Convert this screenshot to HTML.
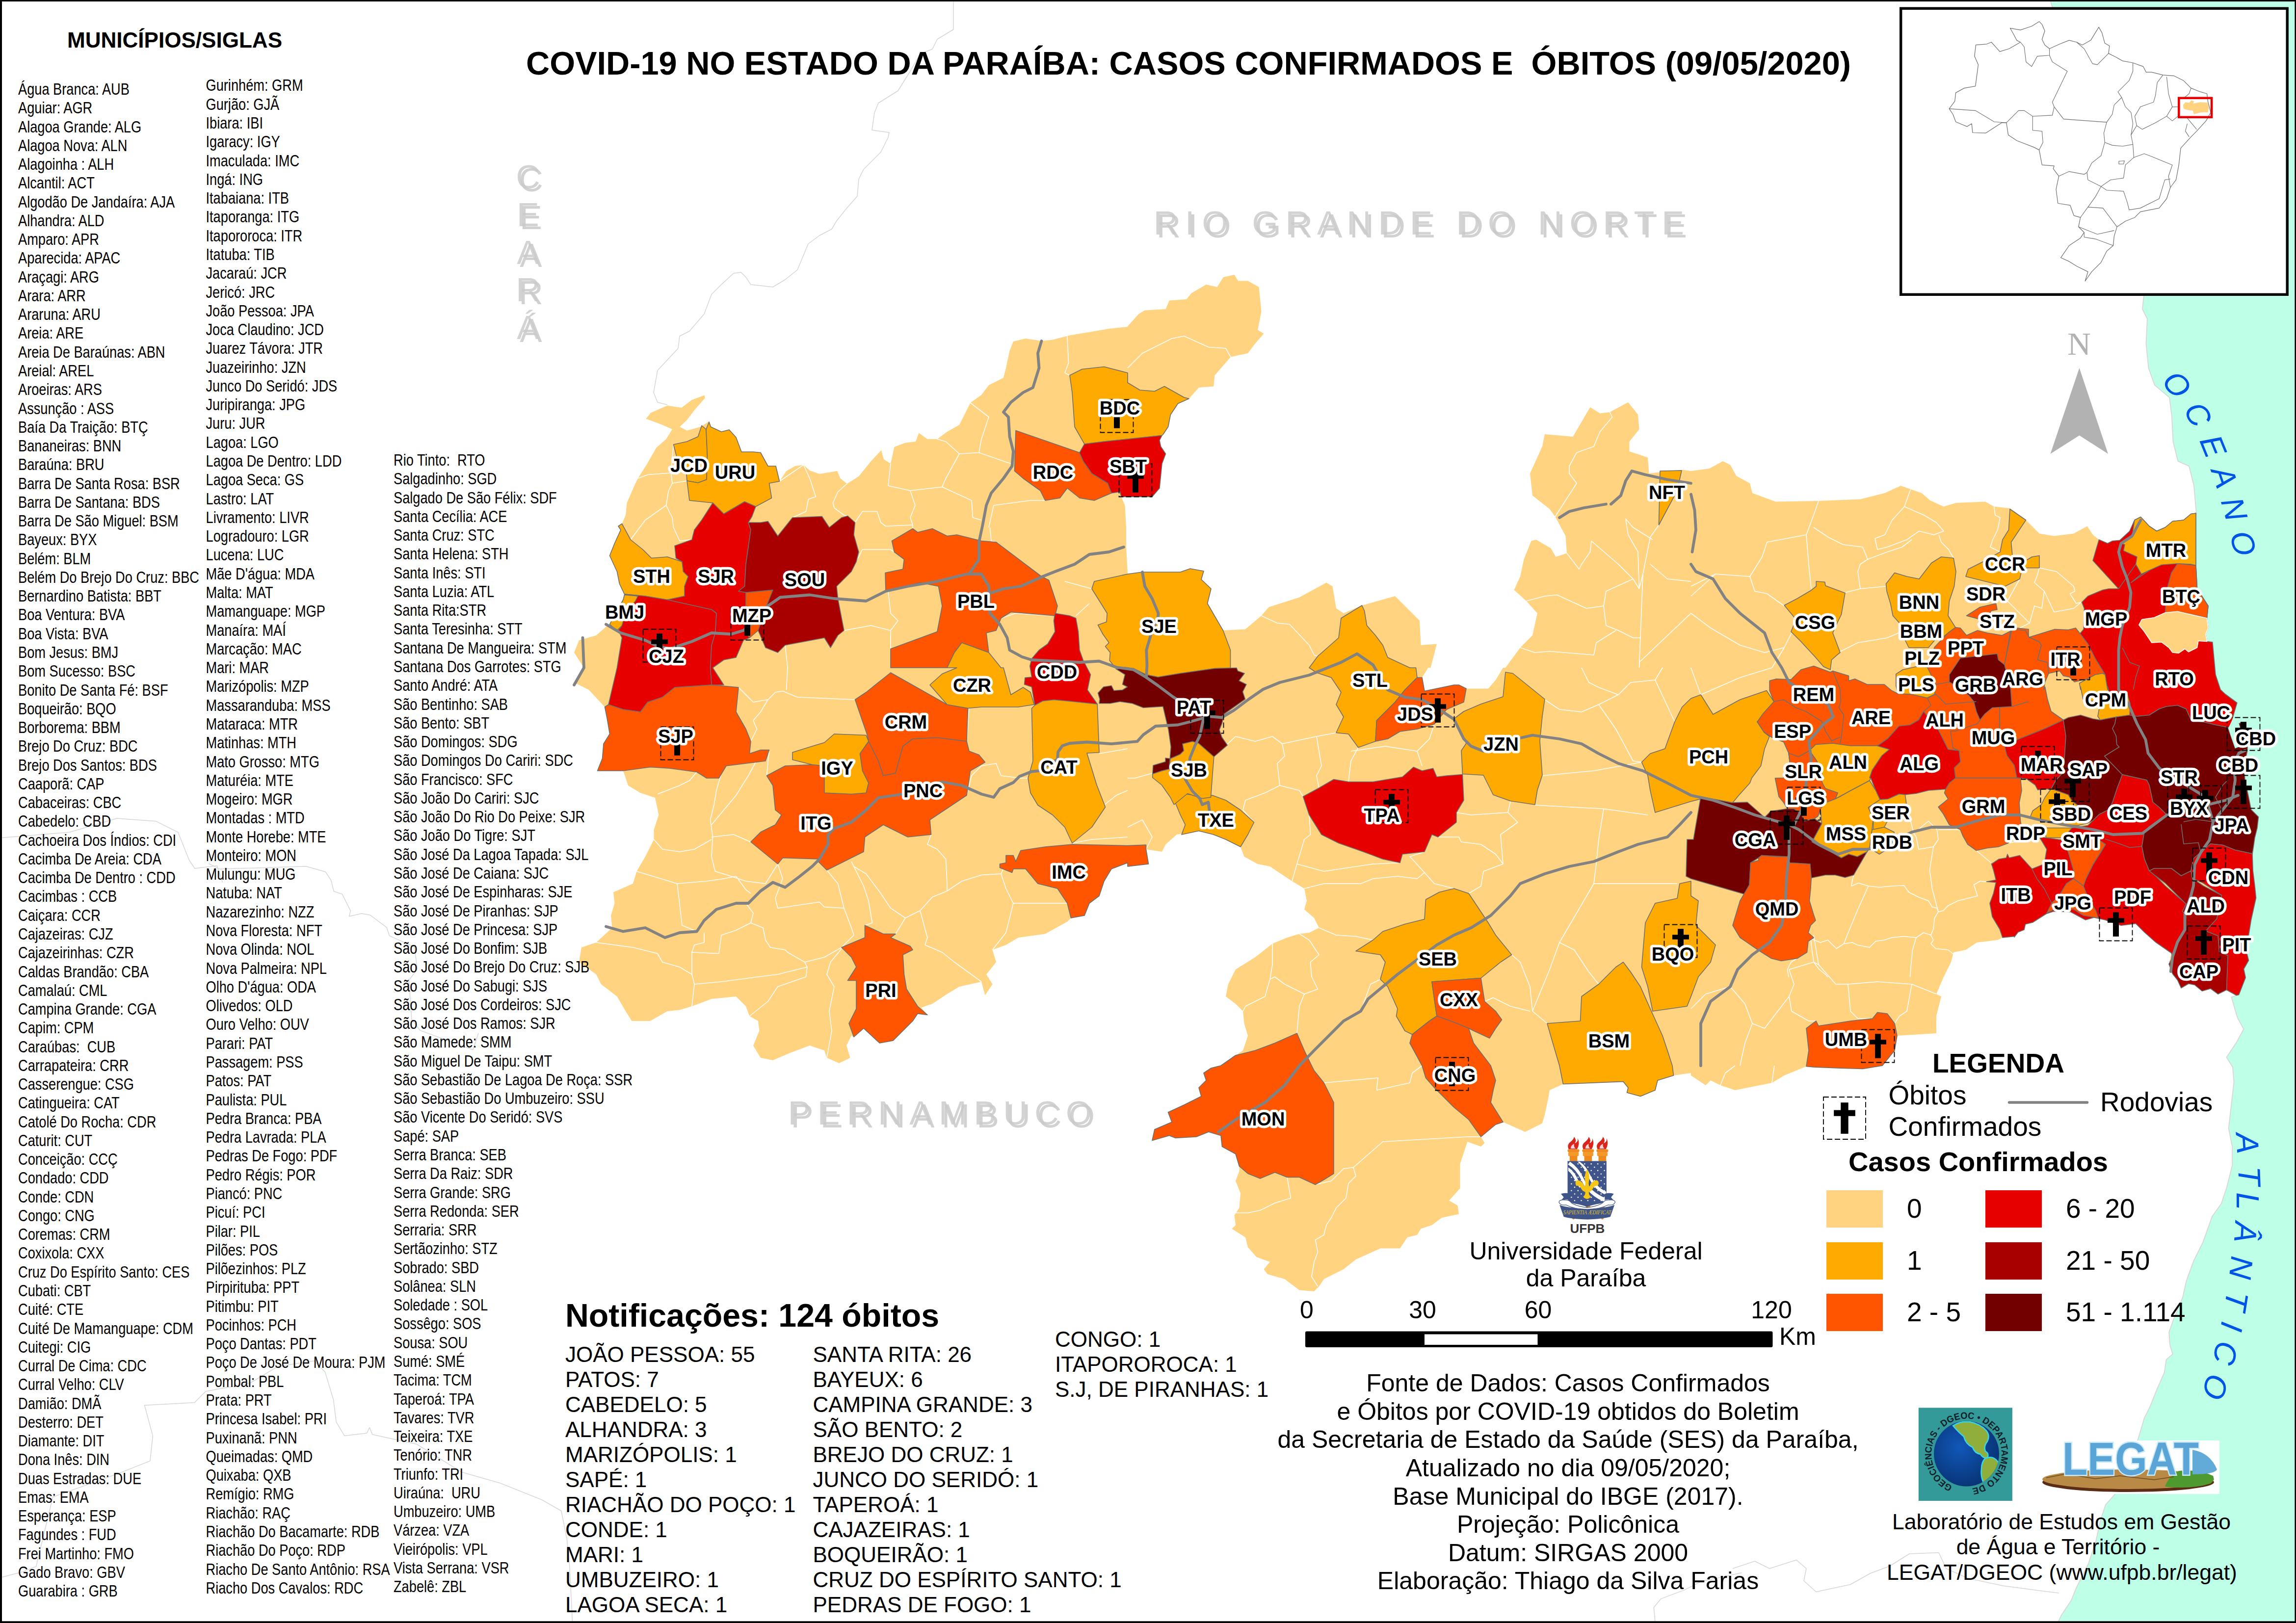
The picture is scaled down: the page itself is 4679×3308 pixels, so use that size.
<!DOCTYPE html>
<html><head><meta charset="utf-8"><title>COVID-19 no Estado da Paraíba</title>
<style>
html,body{margin:0;padding:0;background:#fff}
svg{display:block}
text{font-family:"Liberation Sans",Arial,sans-serif;fill:#000}
.lst text{font-size:33.2px}
.lab text{font-size:38px;font-weight:bold;stroke:#fff;stroke-width:10.5px;stroke-linejoin:round;paint-order:stroke fill}
.n text{font-size:44px}
.s text{font-size:50px;text-anchor:middle}
.g text{font-size:55px}
.mun{stroke:#6e6e6e;stroke-width:1.6;stroke-linejoin:round}
.rd{fill:none;stroke:#828282;stroke-width:5.8;stroke-linejoin:round;stroke-linecap:round}
.wb{fill:none;stroke:#fff;stroke-width:1.6;stroke-linejoin:round}
.gb{fill:none;stroke:#d6d6d6;stroke-width:1.5;stroke-linejoin:round}
.bx{fill:none;stroke:#000;stroke-width:1.8;stroke-dasharray:11 5}
.st text{font-size:68px;fill:#d3d3d3}
.oc text{font-size:64px;font-style:italic;fill:#0055e6;text-anchor:middle}
</style></head><body>
<svg width="4679" height="3308" viewBox="0 0 4679 3308">
<rect width="4679" height="3308" fill="#fff"/>
<g class="gb">
<polyline points="1943,0 1943,60 1910,80 1900,100 1875,110 1855,145 1830,185 1790,210 1782,230 1777,265 1812,270 1810,280 1795,310 1760,345 1750,365 1747,400 1725,425 1705,450 1695,467 1670,480 1647,497 1625,550 1600,570 1575,585 1530,580 1520,565 1510,555 1495,557 1470,580 1450,600 1435,640 1405,675 1385,685 1382,710 1340,755 1332,800 1340,820 1360,825"/>
<polyline points="425.2,1760 447.8,1771.3 623.6,1765.7 663.3,1777 674.6,1794 680.3,1816.7 697.3,1822.4 714.3,1856.4 711.5,1867.7 737,1862 754,1864.9 788,1890.4 793.7,1907.4 844.7,1930.1 850.3,1975.4 833.3,1998.1 839,2077.5 856,2100.1 963.7,2139.8 975.1,2105.8"/>
<polyline points="0,1707.7 141.7,1696.3 238.1,1668 317.5,1673.7 362.8,1696.3 385.5,1753 396.8,1770 442.2,1764.4 453.5,1798.4"/>
<polyline points="0,3215.4 45.3,3204.1 73.6,3192.8 107.6,3051.2 186.9,3022.9 249.2,3000.2 305.8,2977.6 311.4,2926.6 294.5,2864.3 396.4,2858.7 419,2836 509.6,2819 566.3,2785.1 639.9,2773.7 662.5,2796.4 679.5,2853 685.2,2898.3 702.2,2926.6 747.5,2921 753.1,2909.6 758.8,2923.8 849.4,2943.6 940,3000.2 1019.3,3022.9 1104.2,3056.9 1143.8,3079.5 1155.2,3136.1 1160.8,3192.8 1166.5,3306"/>
<polyline points="3373.2,3307.9 3370.3,3276.2 3385,3258.6 3432,3240.9 3467.3,3223.3 3549.6,3205.6"/>
<polyline points="3531,3197 3576,3182 3606,3197 3661,3179.5 3681,3197 3676,3222 3701,3244.5 3771,3229.5 3811,3207 3851,3192 3891,3167 3951,3164.5 3966,3197 4011,3217 4081,3232 4156,3242 4196,3247"/>
</g>
<polygon points="4178,0 4369,603 4366,630 4376,650 4373.5,700 4378.5,750 4391,785 4421,810 4426,850 4428.5,900 4438.5,940 4461,950 4471,990 4476,1047.5 4475,1046.2 4475,1152.5 4477.5,1200 4500,1235 4497.5,1260 4500,1280 4495,1292.5 4497.5,1307.5 4508.8,1308.8 4515,1375 4525,1405.5 4535,1415 4558.8,1432.5 4550,1462.5 4546.2,1500 4555,1525 4567.5,1520 4570,1500 4562.5,1475 4567.5,1472.5 4580,1500 4580,1530 4572.5,1562.5 4575,1590 4582.5,1625 4587.5,1650 4602.5,1665 4600,1687.5 4595,1707.5 4592.5,1725 4590,1750 4591.2,1775 4595,1805.5 4597.5,1830 4587.5,1875 4577.5,1937.5 4582.5,1957.5 4572.5,1975 4576.2,1992.5 4562.5,2027.5 4547.5,2032.5 4552.5,2050 4560,2075 4572.5,2097.5 4557.5,2125 4537.5,2155 4550,2175 4552.5,2205.5 4541.7,2300 4549.2,2337.4 4549.2,2374.8 4538,2419.7 4526.8,2453.3 4508.1,2479.5 4489.4,2531.9 4470.7,2569.3 4455.7,2610.4 4448.2,2644.1 4429.5,2689 4420.2,2715.2 4422,2741.3 4427.7,2760 4414.6,2771.3 4410.8,2797.4 4395.9,2831.1 4380.9,2868.5 4369.7,2890.9 4356,2937 4311,3044.5 4291,3067 4281,3097 4271,3142 4256,3187 4231,3237 4221,3262 4201,3292 4193.5,3308 4679,3308 4679,0" fill="#BEFFE8" stroke="#d9d9d9" stroke-width="2"/>
<polygon points="1190,1361 1170,1330 1180,1305 1215,1295 1235,1277.5 1242.5,1272.5 1270,1220 1272.5,1211 1262.5,1190 1257.5,1165 1242.5,1132.5 1252.5,1107.5 1265,1080 1260,1072.5 1267.5,1067.5 1275,1050 1277.5,1025 1295,985 1300,975 1317.5,947.5 1337.5,912.5 1357.5,895 1370,875 1347.5,865 1316.5,853.5 1326,841.5 1360,826.5 1389,831 1410,815 1436,805.5 1436.5,811.5 1415,836 1400,856 1385,870 1400,877.5 1427.5,870 1445,859 1448.5,870 1470,880 1486,876 1500,891.5 1511,921 1535,921 1550,922.5 1565,950 1581,950 1588.5,981 1602.5,960 1620,950 1637.5,947.5 1650,959 1670,966 1706,960 1712.5,975 1726,986 1750,971 1775,940 1796,917.5 1801,936 1815,945 1822.5,911 1845,902.5 1866,900 1872.5,882.5 1890,895 1910,895 1930,880 1955,866 1977.5,821 2000,805 2015,785 2045,770 2050,750 2057.5,715 2065,696 2090,690 2122.5,695 2145,692.5 2180,683.5 2225,676 2260,670 2298,666 2298,665 2320.5,640 2333,632.5 2375.5,630 2383,612.5 2418,610 2428,597.5 2458,580 2480.5,585 2493,565 2515.5,560 2523,572.5 2543,572.5 2565.5,585 2570.5,635 2563,672.5 2575.5,680 2558,700 2543,720 2508,727.5 2475.5,765 2473,787.5 2443,790 2423,812.5 2400.5,822.5 2385.5,845 2380.5,870 2370.5,885 2363,897.5 2365.5,910 2375.5,925 2368,945 2363,995 2348,1012.5 2298,1012.5 2285,1012.5 2292.5,1030 2295,1075 2295,1115 2298,1167.5 2298,1170 2328,1166 2405.5,1166 2425.5,1159 2453,1164 2448,1181 2468,1200 2460.5,1230 2473,1250 2473,1270 2490.5,1285 2538,1282.5 2570.5,1255 2585.5,1237.5 2648,1217.5 2703,1187.5 2715.5,1195 2723,1240 2738,1250 2775.5,1234 2843,1215 2893,1265 2895.5,1315 2928,1312.5 2915.5,1361 2910.5,1361 2898,1381 2903,1408.5 2963,1396 2973,1396 2988,1403.5 3033,1403.5 3048,1386 3063,1361 3068,1361 3098,1320 3123,1295 3133,1250 3110.5,1225 3085.5,1202.5 3098,1175 3105.5,1140 3120.5,1102.5 3130.5,1100 3160.5,1117.5 3170.5,1135 3193,1127.5 3190.5,1092.5 3170.5,1055 3158,1037.5 3123,1010 3118,965 3143,910 3148,885 3205.5,890 3240.5,830 3260.5,842.5 3280.5,840 3318,820 3338,845 3340.5,875 3320.5,900 3320.5,920 3358,932.5 3360.5,965 3380.5,962.5 3428,957.5 3446,960 3446,960 3483.5,955 3511,940 3526,947.5 3538.5,970 3566,985 3571,1005 3618.5,1022.5 3706,1021 3791,1017.5 3841,1005 3873.5,990 3916,1005 3933.5,1020 3961,1032.5 3986,1025 4046,1022.5 4063.5,1032.5 4096,1036 4128.5,1060 4156,1087.5 4186,1092.5 4226,1087.5 4253.5,1072.5 4265,1090 4277.5,1100 4295,1107.5 4305,1102.5 4320,1101.2 4340,1082.5 4348.8,1061.2 4362.5,1053.8 4380,1072.5 4395,1082.5 4412.5,1075 4427.5,1062.5 4450,1060 4465,1047.5 4475,1046.2 4475,1152.5 4477.5,1200 4500,1235 4497.5,1260 4500,1280 4495,1292.5 4497.5,1307.5 4508.8,1308.8 4515,1375 4525,1405.5 4535,1415 4558.8,1432.5 4550,1462.5 4546.2,1500 4555,1525 4567.5,1520 4570,1500 4562.5,1475 4567.5,1472.5 4580,1500 4580,1530 4572.5,1562.5 4575,1590 4582.5,1625 4587.5,1650 4602.5,1665 4600,1687.5 4595,1707.5 4592.5,1725 4590,1750 4591.2,1775 4595,1805.5 4597.5,1830 4587.5,1875 4577.5,1937.5 4582.5,1957.5 4572.5,1975 4576.2,1992.5 4562.5,2027.5 4557.5,2028.8 4535,2017.5 4520,2026.2 4505,2015 4487.5,2020 4472.5,2007.5 4460,2005 4445,2013.8 4437.5,1997.5 4427.5,1985 4420,1965 4425,1942.5 4392.5,1920 4370,1900 4352.5,1882.5 4322.5,1886.2 4290,1875 4267.5,1870 4250,1875 4220,1858.8 4185,1857.5 4170,1862.5 4142.5,1880 4127.5,1883.8 4125,1895 4112.5,1900 4105,1910 4106,1908.5 4081,1911 4071,1916 4028.5,1921 4006,1936 3981,1941 3976,1961 3961,1991 3946,2026 3956,2031 3946,2071 3946,2106 3866,2111 3861,2141 3836,2172 3796,2178.5 3746,2177 3696,2175 3681,2173.5 3636,2192 3611,2207 3536,2222 3506,2212 3486,2202 3476,2212 3446,2192 3446,2187 3410.5,2192 3378,2202 3373,2222 3343,2234.5 3315.5,2227 3318,2217 3308,2204.5 3185.5,2209.5 3158,2222 3155.5,2237 3148,2272 3143,2289.5 3108,2307 3063,2287 3048,2292 3033,2304.5 3018,2317 3025.5,2329.5 3018,2337 2990.5,2327 2975.5,2372 2975.5,2422 2953,2447 2970.5,2457 2973,2474.5 2938,2482 2918,2497 2895.5,2504.5 2888,2517 2868,2522 2853,2544.5 2813,2544.5 2763,2567 2738,2587 2698,2607 2688,2622 2678,2632 2648,2629.5 2618,2607 2583,2597 2575.5,2587 2588,2572 2560.5,2562 2543,2542 2538,2522 2510.5,2504.5 2518,2497 2515.5,2477 2525.5,2462 2528,2432 2518,2407 2525.5,2387 2525.5,2377 2518,2352 2490.5,2337 2488,2314.5 2463,2307 2438,2317 2395.5,2319.5 2383,2314.5 2348,2324.5 2353,2302 2388,2287 2380.5,2267 2413,2252 2448,2234.5 2443,2217 2458,2202 2453,2187 2468,2177 2488,2172 2488,2172 2518,2151 2533,2141 2543,2111 2535.5,2086 2533,2061 2518,2046 2498,2031 2503,2006 2518,1976 2558,1951 2593,1923.5 2623,1911 2648,1903.5 2668,1901 2688,1891 2678,1871 2658,1853.5 2663,1836 2658,1811 2633,1796 2618,1786 2588,1766 2563,1761 2535.5,1746 2528,1726 2498,1711 2473,1701 2443,1693.5 2398,1701 2375.5,1721 2368,1736 2335.5,1731 2340.5,1761 2298,1766 2298,1758.5 2265,1771 2250,1796 2240,1826 2220,1841 2210,1866 2182.5,1871 2175,1878.5 2130,1903.5 2075,1911 2050,1926 2022.5,1936 2030,1961 2010,1986 2022.5,2006 2007.5,2028.5 2000,2001 1955,2011 1930,2026 1900,2046 1877.5,2053.5 1890,2068.5 1870,2066 1860,2081 1840,2101 1820,2121 1792.5,2126 1760,2096 1740,2113.5 1735,2111 1725,2131 1732.5,2156 1710,2167 1685,2156 1680,2141 1650,2131 1610,2146 1575,2161 1550,2156 1535,2131 1547.5,2101 1545,2081 1527.5,2071 1520,2051 1500,2031 1450,2036 1410,2051 1385,2058.5 1360,2061 1325,2081 1287.5,2081 1275,2061 1257.5,2031 1225,2006 1215,1986 1180,1961 1185,1931 1215,1921 1247.5,1891 1245,1866 1252.5,1841 1250,1818.5 1290,1801 1297.5,1776 1315,1746 1332.5,1711 1332.5,1691 1342.5,1661 1335,1626 1305,1616 1280,1601 1270,1571 1217.5,1571 1227.5,1546 1230,1516 1242.5,1496 1237.5,1466 1232.5,1441 1200,1406 1170,1391 1190,1361" fill="#FFD37F"/>
<g class="wb">
<polyline points="1300,975 1320,967.5 1367.5,964 1372.5,906"/>
<polyline points="1367.5,964 1370,985 1362.5,1000 1357.5,1030 1370,1055 1372.5,1075 1385,1102.5 1410,1100"/>
<polyline points="1370,985 1400,980"/>
<polyline points="1588.5,981 1637.5,947.5 1650,975 1662.5,1012.5 1647.5,1017.5 1642.5,1042.5 1615,1055"/>
<polyline points="1726,986 1707.5,1002.5 1697.5,1025 1700,1035 1720,1050 1727.5,1051.5"/>
<polyline points="1742.5,1065 1757.5,1042.5 1787.5,1042.5 1795,1065 1805,1072.5 1860,1070 1860,1077.5"/>
<polyline points="1815,945 1810,990 1855,1000 1865,1030 1855,1055 1860,1070"/>
<polyline points="1855,1000 1920,992.5 1927.5,975 1955,925 1995,922.5 2000,895 2015,850 1977.5,821"/>
<polyline points="1920,992.5 1980,1020 1982.5,1055 2000,1060"/>
<polyline points="1995,922.5 2060,945"/>
<polyline points="1910,895 1927.5,900 1955,925"/>
<polyline points="2175,685 2177.5,740 2170,760 2180,765"/>
<polyline points="2015,1075 2025,1030 2100,1020 2130,1020"/>
<polyline points="2017.5,1075 2020,1102.5 2030,1105"/>
<polyline points="1810,1205 1815,1250 1830,1265 1815,1285 1815,1322.5"/>
<polyline points="1705,1195 1750,1135 1757.5,1120 1815,1120 1822.5,1125"/>
<polyline points="1600,1315 1605,1361"/>
<polyline points="2040,1260 2070,1250 2145,1255"/>
<polyline points="2170,1185 2225,1200"/>
<polyline points="2192.5,1255 2220,1230"/>
<polyline points="1720,1285 1775,1275 1815,1285"/>
<polyline points="1285,1100 1315,1060 1357.5,1030"/>
<polyline points="1505,1401 1535,1431 1565,1426 1580,1411 1595,1408.5 1625,1421 1742.5,1426"/>
<polyline points="1605,1361 1602.5,1406"/>
<polyline points="1565,1426 1550,1451 1535,1468.5 1542.5,1486 1530,1511"/>
<polyline points="1742.5,1426 1765,1486 1767.5,1498.5"/>
<polyline points="1567.5,1528.5 1562.5,1581"/>
<polyline points="1480,1561 1470,1576 1460,1611 1455,1641 1447.5,1671 1452.5,1706 1450,1746 1457.5,1776 1490,1786 1520,1796 1560,1801 1585,1761"/>
<polyline points="1540,1553.5 1525,1581 1500,1621 1475,1651 1450,1681"/>
<polyline points="1420,1573.5 1405,1591 1385,1601 1340,1618.5"/>
<polyline points="1332.5,1711 1350,1731 1385,1736 1415,1731 1450,1711"/>
<polyline points="1450,1706 1495,1701 1530,1716"/>
<polyline points="1297.5,1776 1380,1801 1440,1796 1475,1791 1500,1786 1520,1813.5 1530,1821"/>
<polyline points="1380,1801 1390,1886 1420,1898.5"/>
<polyline points="1520,1841 1535,1861 1530,1881 1555,1891 1560,1916 1570,1931 1600,1936 1605,1941 1640,1961 1680,1951 1715,1931"/>
<polyline points="1585,1761 1595,1791 1580,1831 1585,1851 1670,1838.5 1680,1848.5 1720,1851 1735,1891 1740,1906 1715,1931"/>
<polyline points="1685,1773.5 1707.5,1801 1720,1851"/>
<polyline points="1735,1756 1745,1776 1760,1806 1770,1836 1777.5,1881 1762.5,1886"/>
<polyline points="1740,1766 1765,1781 1795,1821 1815,1851 1845,1871 1825,1903.5"/>
<polyline points="1845,1871 1875,1856 1900,1828.5 1930,1816 1960,1796 2000,1783.5 2040,1781 2050,1758.5"/>
<polyline points="1897.5,1701 1890,1721 1910,1731 1927.5,1751 1930,1801 1930,1816"/>
<polyline points="1875,1856 1890,1911 1885,1926 1920,1941 1945,1961 2000,2001"/>
<polyline points="2040,1781 2050,1811 2065,1841 2050,1901 2022.5,1936"/>
<polyline points="2175,1841 2065,1841"/>
<polyline points="1215,1921 1290,1931 1340,1943.5 1350,1961 1385,1971 1410,1986 1415,2006 1410,2051"/>
<polyline points="1410,1941 1465,1943.5 1470,1906 1500,1896 1530,1881"/>
<polyline points="1410,1986 1410,1941 1415,1926 1435,1921 1435,1901"/>
<polyline points="1415,2006 1470,2001 1545,1991 1585,1986 1645,1971 1640,1961"/>
<polyline points="1645,1971 1642.5,1991 1585,2011 1565,2041 1540,2061 1527.5,2071"/>
<polyline points="1715,1933.5 1692.5,1961 1685,1986 1700,2011 1690,2061 1695,2101 1685,2156"/>
<polyline points="1970,1511 1975,1441"/>
<polyline points="1970,1621 1980,1581 2000,1561 2030,1556 2040,1581 2080,1586 2095,1586"/>
<polyline points="2240,1536 2298,1526"/>
<polyline points="2250,1641 2275,1621 2298,1611"/>
<polyline points="2185,1718.5 2225,1711 2298,1706"/>
<polyline points="2045,1361 2055,1416"/>
<polyline points="2473,1543.5 2518,1501 2558,1511 2593,1501 2613,1516 2618,1541 2603,1556 2608,1601 2578,1616 2538,1631 2533,1651"/>
<polyline points="2613,1516 2648,1508.5 2683,1501 2723,1493.5"/>
<polyline points="2683,1501 2693,1561 2683,1581 2688,1606"/>
<polyline points="2768,1523.5 2753,1551 2748,1593.5"/>
<polyline points="2753,1531 2823,1521 2888,1531 2913,1506 2923,1476"/>
<polyline points="2888,1531 2898,1561"/>
<polyline points="2608,1601 2648,1611 2655.5,1623.5"/>
<polyline points="2668,1661 2670.5,1701 2658,1711 2643,1761 2633,1796"/>
<polyline points="2643,1761 2698,1776 2798,1761 2853,1758.5"/>
<polyline points="2658,1811 2698,1801 2773,1801 2798,1791 2848,1786 2888,1791 2903,1778.5 2878,1751 2873,1746 2903,1736"/>
<polyline points="2903,1778.5 2923,1801 2963,1811"/>
<polyline points="2930.5,1706 2973,1706 2978,1716 3018,1721 3048,1741 3063,1761 3023,1776 3018,1806 2993,1821"/>
<polyline points="2968,1656 2998,1661 3073,1656 3078,1633.5"/>
<polyline points="3073,1656 3093,1676 3058,1701 3063,1761"/>
<polyline points="3128,1641 3268,1648.5 3358,1661"/>
<polyline points="3268,1648.5 3258,1711 3253,1761 3248,1801 3213,1861 3178,1921 3158,1976 3123,2061 3153,2086"/>
<polyline points="3248,1801 3418,1801"/>
<polyline points="3080.5,1946 3098,1961 3118,2011 3123,2061"/>
<polyline points="3178,1921 3208,1936 3238,1981 3258,2006"/>
<polyline points="3025.5,2041 3043,2033.5 3078,2051 3118,2061"/>
<polyline points="2688,1891 2723,1906 2763,1908.5 2798,1916"/>
<polyline points="2648,1903.5 2668,1916 2688,1946 2670.5,1961 2673,1991 2685.5,2016 2658,2026 2648,2051 2643,2106"/>
<polyline points="2593,1923.5 2593,1966 2588,1996 2598,1991 2618,2006 2658,2026"/>
<polyline points="2588,1996 2578,2031 2538,2051 2533,2061"/>
<polyline points="2813,1996 2793,2006 2773,2061"/>
<polyline points="3148,1426 3178,1446 3223,1451 3258,1436 3298,1416 3323,1391 3373,1386 3413,1471"/>
<polyline points="3258,1436 3293,1486 3328,1551 3345.5,1553.5"/>
<polyline points="3223,1361 3238,1391 3258,1401 3298,1416"/>
<polyline points="3373,1386 3388,1361"/>
<polyline points="3143,1581 3248,1571 3345.5,1553.5"/>
<polyline points="2298,1586 2313,1586 2348,1576"/>
<polyline points="2533,1651 2555.5,1676"/>
<polyline points="2298,1686 2328,1671 2348,1706 2335.5,1731"/>
<polyline points="2298,750 2328,720 2388,690 2413,685 2463,707.5 2498,710 2508,727.5"/>
<polyline points="3168,1055 3213,985 3198,965 3198,950 3213,922.5 3248,910 3260.5,880 3285.5,850 3280.5,840"/>
<polyline points="3243,1102.5 3240.5,1125 3223,1150 3218,1160 3193,1127.5"/>
<polyline points="3243,1102.5 3298,1150 3328,1180 3340.5,1200 3348,1170 3363,1095 3380.5,1070"/>
<polyline points="3313,1057.5 3328,1075 3368,1100"/>
<polyline points="3313,1057.5 3318,1090 3338,1125 3340.5,1200"/>
<polyline points="3363,1150 3398,1180 3446,1185"/>
<polyline points="3110.5,1225 3148,1215 3173,1212.5 3233,1240 3268,1235 3273,1205 3328,1180"/>
<polyline points="3268,1235 3273,1275 3298,1285 3328,1300 3343,1300"/>
<polyline points="3098,1320 3128,1330 3158,1327.5 3248,1335 3253,1310 3293,1285"/>
<polyline points="3348,1170 3340.5,1361"/>
<polyline points="3446,1250 3340.5,1350"/>
<polyline points="2570.5,1255 2603,1270 2628,1272.5 2668,1315 2678,1335 2685.5,1337.5"/>
<polyline points="3706,1021 3696,1050 3681,1090 3686,1150 3691,1200"/>
<polyline points="3681,1090 3601,1105 3591,1135 3566,1175 3576,1205 3601,1210 3636,1235"/>
<polyline points="3696,1075 3726,1095 3756,1110 3796,1115 3806,1140 3791,1150 3786,1165 3791,1200 3761,1207.5"/>
<polyline points="3566,1175 3496,1170 3446,1195"/>
<polyline points="3496,1170 3446,1215"/>
<polyline points="3893.5,997.5 3881,1032.5 3856,1060 3841,1090 3821,1097.5 3826,1120 3846,1115 3886,1100 3911,1082.5 3941,1090 3961,1082.5 3946,1065 3921,1050 3881,1032.5"/>
<polyline points="3806,1140 3846,1125 3876,1115 3896,1100"/>
<polyline points="3951,1090 3956,1105 3971,1120 3981,1137.5"/>
<polyline points="3791,1200 3843.5,1195"/>
<polyline points="4063.5,1032.5 4066,1050 4076,1055 4071,1080 4061,1100 4056,1115 4076,1125"/>
<polyline points="4156,1157.5 4191,1165 4226,1195 4228.5,1205 4218.5,1210 4231,1230 4241,1227.5"/>
<polyline points="4156,1157.5 4151,1175 4146,1187.5 4166,1205 4161,1240 4146,1235 4136,1270 4116,1280"/>
<polyline points="4116,1180 4091,1225 4116,1250 4136,1270"/>
<polyline points="4166,1205 4186,1247.5 4226,1240 4241,1227.5"/>
<polyline points="3746,1330 3786,1310 3846,1300 3881,1285"/>
<polyline points="3446,1250 3486,1280 3546,1315 3596,1330 3636,1320 3651,1290"/>
<polyline points="3611,1361 3636,1320"/>
<polyline points="3772.5,1806 3787.5,1799.8 3807.5,1806 3830,1808.5 3855,1806 3880,1804.8 3890,1818.5 3910,1828.5 3930,1836 3937.5,1848.5 3947.5,1851 3950,1858.5"/>
<polyline points="3807.5,1806 3785,1856 3767.5,1898.5 3757.5,1923.5"/>
<polyline points="3805,1736 3777.5,1783.5 3772.5,1806"/>
<polyline points="3940,1726 3932.5,1773.5 3937.5,1811 3950,1858.5"/>
<polyline points="3950,1858.5 3960,1856 3970,1846 3990,1836 4010,1831 4030,1826 4025,1811 4022.5,1803.5 4035,1796 4047.5,1797.2"/>
<polyline points="3950,1858.5 3942.5,1871 3940,1893.5 3935,1906 3940,1916 3935,1923.5 3945,1933.5 3970,1936 3982.5,1946"/>
<polyline points="3690,1913.5 3710,1921 3725,1916 3742.5,1933.5 3757.5,1923.5 3775,1921 3785,1926 3810,1931 3822.5,1918.5 3840,1916 3855,1911 3880,1908.5 3905,1911 3920,1901 3935,1906"/>
<polyline points="3905,1911 3897.5,1936 3895,1961 3892.5,1991.5"/>
<polyline points="3690,1913.5 3692.5,1936 3696.2,1961 3707.5,1976 3720,1986 3725,1991.5"/>
<polyline points="3645,1991.5 3642.5,1976 3650,1961 3682.5,1941"/>
<polyline points="3885,1638.5 3900,1698.5 3930,1673.5 3947.5,1691 3950,1711 3940,1726 3910,1731 3905,1706 3900,1698.5"/>
<polyline points="3950,1691 3970,1691 3995,1691"/>
<polyline points="4027.5,1733.5 4057.5,1758.5"/>
<polyline points="4092.5,1718.5 4134,1711"/>
<polyline points="3696,1906 3706,1966 3741,2006 3766,2006 3771,2061 3786,2076 3816,2076"/>
<polyline points="3646,1976 3696,1961 3706,1966"/>
<polyline points="3646,1976 3656,2006 3646,2031 3651,2061 3686,2081 3701,2081"/>
<polyline points="3446,2056 3476,2026 3526,2011 3556,2046 3571,2086 3596,2096 3646,2031"/>
<polyline points="3571,2086 3556,2126 3546,2172"/>
<polyline points="3946,2026 3896,2006 3886,2061 3871,2071 3861,2086"/>
<polyline points="3766,2006 3826,2001 3896,2006"/>
<polyline points="3446,1361 3466,1416"/>
<polyline points="3466,1416 3546,1381 3611,1361"/>
<polyline points="3531,1636 3561,1596 3588.5,1561"/>
<polyline points="2698,2207 2808,2197 2805.5,2222 2873,2207 2878,2187 2898,2172"/>
<polyline points="2623,2399.5 2630.5,2442 2598,2452 2568,2467 2543,2472 2518,2472"/>
<polyline points="2680.5,2414.5 2713,2407 2738,2382 2758,2379.5 2763,2397 2748,2412 2743,2442 2723,2462 2713,2482 2703,2497 2698,2517 2680.5,2527 2685.5,2552 2678,2572 2673,2602 2685.5,2622"/>
<polyline points="2758,2379.5 2818,2327 2990.5,2317 3018,2317"/>
<polyline points="3506,2212 3516,2187 3536,2172"/>
<polyline points="3611,2207 3616,2172"/>
</g>
<g class="mun">
<polygon points="1372.5,906 1400,900 1422.5,890 1430,867.5 1439,875 1441.5,930 1440,977.5 1422.5,984 1400,980 1397.5,950 1380,935" fill="#FFAA00"/>
<polygon points="1439,875 1445,860 1448.5,870 1470,880 1486,876 1500,891.5 1511,921 1535,921 1550,922.5 1565,950 1581,950 1588.5,981 1567.5,985 1572.5,1015 1540,1032.5 1517.5,1022.5 1475,1047.5 1452.5,1025 1405,1020 1400,980 1422.5,984 1440,977.5 1441.5,930" fill="#FFAA00"/>
<polygon points="1267.5,1067.5 1285,1100 1310,1120 1327.5,1137.5 1360,1135 1390,1145 1392.5,1165 1402.5,1175 1395,1195 1395,1215 1360,1222.5 1315,1215 1272.5,1211 1262.5,1190 1257.5,1165 1242.5,1132.5 1252.5,1107.5 1265,1080 1260,1072.5" fill="#FFAA00"/>
<polygon points="1272.5,1212.5 1300,1215 1295,1225 1275,1250 1267.5,1275 1257.5,1285 1242.5,1272.5 1257.5,1245 1270,1222.5" fill="#FFAA00"/>
<polygon points="1452.5,1025 1475,1047.5 1517.5,1022.5 1540,1032.5 1532.5,1052.5 1525,1065 1530,1080 1520,1150 1517.5,1195 1505,1205 1520,1207.5 1520,1250 1517.5,1285 1527.5,1300 1515,1305 1500,1340 1475,1345 1452.5,1361 1452.5,1361 1475,1396 1450,1396 1447.5,1361 1450,1315 1457.5,1290 1460,1250 1450,1242.5 1360,1222.5 1395,1215 1395,1195 1402.5,1175 1392.5,1165 1390,1145 1377.5,1137.5 1375,1112.5 1410,1100 1415,1080 1430,1060" fill="#E60000"/>
<polygon points="1272.5,1211 1315,1215 1360,1222.5 1450,1242.5 1460,1250 1457.5,1290 1450,1315 1447.5,1361 1447.5,1361 1450,1396 1375,1401 1350,1421 1320,1431 1305,1451 1270,1446 1240,1436 1257.5,1361 1257.5,1361 1262.5,1330 1267.5,1300 1260,1285 1267.5,1275 1275,1250 1295,1225 1300,1215" fill="#E60000"/>
<polygon points="1520,1207.5 1575,1202.5 1560,1240 1545,1285 1527.5,1300 1517.5,1285 1520,1250" fill="#FF5500"/>
<polygon points="1525,1065 1550,1065 1565,1062.5 1585,1092.5 1615,1055 1675,1052.5 1690,1075 1715,1055 1727.5,1051.5 1742.5,1065 1740,1090 1750,1125 1745,1145 1735,1165 1705,1195 1707.5,1220 1720,1285 1707.5,1295 1692.5,1320 1680,1300 1600,1315 1585,1330 1560,1320 1545,1285 1560,1240 1575,1202.5 1520,1207.5 1505,1205 1517.5,1195 1520,1150 1530,1080" fill="#A80000"/>
<polygon points="1817.5,1102.5 1860,1077.5 1870,1085 1900,1077.5 1930,1092.5 1950,1090 2000,1102.5 2030,1105 2122.5,1175 2137.5,1182.5 2155,1235 2150,1255 2060,1247.5 2040,1260 2030,1285 2010,1290 2015,1330 1960,1310 1945,1330 1930,1361 1815,1361 1815,1322.5 1910,1287.5 1920,1235 1912.5,1195 1875,1187.5 1805,1205 1804,1167.5 1840,1160 1842.5,1140 1822.5,1125" fill="#FF5500"/>
<polygon points="2070,877.5 2200,922.5 2207.5,940 2225,965 2257.5,985 2265,1005 2230,1020 2200,1015 2175,995 2160,1015 2130,1020 2120,1000 2085,975 2067.5,960" fill="#FF5500"/>
<polygon points="2180,765 2205,752.5 2250,747.5 2298,760 2298,780 2323,795 2353,797.5 2373,787.5 2413,810 2423,812.5 2400.5,822.5 2385.5,845 2380.5,870 2370.5,885 2368,887.5 2298,895 2250,900 2210,905 2190,870 2185,800" fill="#FFAA00"/>
<polygon points="2200,922.5 2210,905 2250,900 2298,895 2368,887.5 2363,897.5 2365.5,910 2375.5,925 2368,945 2363,995 2348,1012.5 2298,1012.5 2285,1012.5 2282.5,1002.5 2265,1005 2257.5,985 2225,965 2207.5,940" fill="#E60000"/>
<polygon points="3383,960 3427,959 3418,1000 3380.5,1070" fill="#FFAA00"/>
<polygon points="1240,1436 1270,1446 1305,1451 1320,1431 1350,1421 1375,1401 1450,1396 1505,1401 1500,1451 1520,1486 1530,1511 1527.5,1536 1550,1528.5 1567.5,1528.5 1560,1551 1540,1553.5 1500,1558.5 1480,1561 1465,1586 1440,1586 1420,1573.5 1365,1566 1325,1563.5 1270,1571 1217.5,1571 1227.5,1546 1230,1516 1242.5,1496 1237.5,1466 1232.5,1441" fill="#FF5500"/>
<polygon points="1742.5,1426 1765,1411 1815,1371 1930,1436 1972.5,1443.5 1970,1511 1910,1503.5 1860,1506 1840,1521 1825,1576 1800,1581 1795,1566 1790,1551 1770,1511 1767.5,1498.5" fill="#FF5500"/>
<polygon points="1840,1521 1860,1506 1910,1503.5 1970,1511 1975,1531 1995,1538.5 2007.5,1553.5 1977.5,1571 1970,1621 1940,1641 1895,1671 1897.5,1701 1850,1706 1800,1681 1762.5,1706 1760,1736 1685,1773.5 1667.5,1756 1670,1751 1595,1748.5 1585,1761 1530,1716 1550,1696 1580,1681 1592.5,1661 1580,1651 1575,1601 1562.5,1581 1600,1561 1655,1558.5 1680,1561 1680,1616 1735,1618.5 1765,1616 1770,1596 1757.5,1571 1752.5,1536 1770,1511 1790,1551 1795,1566 1800,1581 1825,1576" fill="#FF5500"/>
<polygon points="1615,1533.5 1655,1521 1680,1513.5 1700,1496 1765,1498.5 1770,1511 1752.5,1536 1757.5,1571 1770,1596 1765,1616 1735,1618.5 1680,1616 1680,1561 1655,1558.5 1615,1548.5" fill="#FFAA00"/>
<polygon points="1930,1361 1945,1330 1960,1310 2015,1330 2040,1361 2045,1361 2060,1416 2085,1401 2100,1411 2107.5,1436 2075,1441 2000,1441 1972.5,1443.5 1930,1436 1895,1396 1920,1373.5 1950,1361" fill="#FFAA00"/>
<polygon points="2050,1743.5 2065,1743.5 2070,1756 2080,1733.5 2130,1726 2185,1721 2298,1723.5 2335.5,1722 2335.5,1731 2340.5,1761 2298,1766 2298,1758.5 2265,1771 2250,1796 2240,1826 2220,1841 2210,1866 2182.5,1871 2175,1841 2155,1811 2115,1801 2090,1771 2065,1771 2062.5,1778.5 2037.5,1768.5 2037.5,1761 2050,1758.5" fill="#FF5500"/>
<polygon points="1762.5,1886 1800,1903.5 1825,1903.5 1815,1911 1855,1928.5 1860,1936 1840,1946 1842.5,1986 1847.5,2016 1870,2051 1890,2068.5 1870,2066 1860,2081 1840,2101 1820,2121 1792.5,2126 1760,2096 1740,2113.5 1730,2086 1745,2056 1745,1998.5 1727.5,1998.5 1745,1971 1735,1951 1715,1931 1762.5,1911" fill="#FF5500"/>
<polygon points="2418,1618.5 2448,1623.5 2470.5,1621 2498,1631 2528,1651 2555.5,1676 2543,1701 2528,1726 2498,1711 2473,1701 2443,1693.5 2408,1701 2415.5,1681 2405.5,1661 2393,1631" fill="#FFAA00"/>
<polygon points="2733,1260 2775.5,1234 2780.5,1245 2785.5,1275 2803,1295 2818,1315 2828,1340 2873,1361 2885.5,1361 2888,1381 2863,1406 2843,1431 2805.5,1468.5 2803,1511 2768,1523.5 2748,1496 2723,1493.5 2738,1461 2723,1436 2733,1411 2713,1381 2683,1371 2668,1361 2668,1361 2685.5,1337.5 2728,1300" fill="#FFAA00"/>
<polygon points="2805.5,1468.5 2843,1431 2863,1406 2888,1381 2898,1381 2903,1408.5 2963,1396 2973,1396 2988,1403.5 2983,1431 2948,1446 2923,1476 2888,1486 2853,1491 2828,1506 2803,1511" fill="#FF5500"/>
<polygon points="3068,1370 3083,1372.5 3148,1425 3143,1460 3138,1510 3143,1580 3133,1610 3128,1640 3078,1632.5 3043,1620 3023,1580 2980.5,1577.5 2978,1530 2988,1515 2983,1505 2963,1465 2983,1450 3018,1435 3063,1420" fill="#FFAA00"/>
<polygon points="2655.5,1623.5 2688,1606 2718,1588.5 2748,1593.5 2798,1593.5 2828,1588.5 2858,1583.5 2880.5,1563.5 2898,1571 2920.5,1566 2928,1583.5 2948,1581 2980.5,1578.5 2983,1631 2968,1656 2968,1676 2930.5,1706 2918,1701 2903,1736 2858,1741 2853,1758.5 2818,1751 2778,1736 2728,1718.5 2693,1701 2668,1661" fill="#E60000"/>
<polygon points="2905.5,1833.5 2933,1818.5 2963,1811 2993,1821 3023,1866 3033,1881 3048,1906 3080.5,1946 3058,1961 3018,1993.5 2918,2001 2928,2071 2913,2081 2878,2108.5 2863,2101 2845.5,2071 2848,2056 2828,2011 2813,1996 2823,1961 2813,1946 2763,1938.5 2798,1916 2818,1898.5 2863,1883.5 2903,1873.5" fill="#FFAA00"/>
<polygon points="2918,2001 3018,1993.5 3025.5,2041 3048,2061 3060.5,2078.5 3048,2096 3035.5,2116 3003,2101 2993,2096 2963,2083.5 2928,2071" fill="#FF5500"/>
<polygon points="2878,2108.5 2913,2081 2928,2071 2963,2083.5 2993,2096 3003,2126 3038,2172 3048,2202 3043,2222 3038,2247 3063,2287 3048,2292 3033,2304.5 3018,2317 2993,2282 2963,2257 2943,2237 2923,2217 2905.5,2197 2898,2172 2873,2126" fill="#FF5500"/>
<polygon points="3153,2086 3220.5,2081 3223,2031 3258,2006 3293,1971 3308,1961 3323,1981 3343,2011 3363,2056 3388,2111 3398,2141 3408,2172 3410.5,2192 3378,2202 3373,2222 3343,2234.5 3315.5,2227 3318,2217 3308,2204.5 3185.5,2209.5 3178,2172 3163,2121" fill="#FFAA00"/>
<polygon points="3353,1881 3373,1841 3418,1831 3423,1801 3446,1796 3446,1826 3461,1836 3456,1886 3496,1926 3486,1961 3461,1991 3446,2031 3438,2051 3368,2061 3358,2011 3345.5,1971" fill="#FFAA00"/>
<polygon points="3345.5,1553.5 3363,1536 3393,1526 3413,1471 3428,1441 3446,1423.5 3466,1416 3491,1456 3546,1426 3600,1407.5 3615,1430 3611,1461 3586,1466 3581,1471 3595,1492.5 3606,1501 3596,1526 3588.5,1561 3570,1585.5 3566,1596 3543.5,1621 3531,1636 3476,1626 3446,1633.5 3373,1656 3363,1611 3358,1581" fill="#FFAA00"/>
<polygon points="2488,2172 2518,2151 2558,2141 2598,2126 2643,2106 2658,2141 2673,2172 2678,2182 2698,2207 2718,2247 2718,2392 2698,2404.5 2680.5,2414.5 2648,2399.5 2623,2399.5 2598,2389.5 2568,2402 2543,2392 2525.5,2377 2518,2352 2490.5,2337 2488,2314.5 2463,2307 2438,2317 2395.5,2319.5 2383,2314.5 2348,2324.5 2353,2302 2388,2287 2380.5,2267 2413,2252 2448,2234.5 2443,2217 2458,2202 2453,2187 2468,2177 2488,2172" fill="#FF5500"/>
<polygon points="3681,2096 3701,2081 3706,2091 3771,2081 3816,2076 3826,2063.5 3846,2066 3861,2086 3866,2111 3861,2141 3836,2172 3796,2178.5 3746,2177 3696,2175 3681,2173.5 3686,2141" fill="#FF5500"/>
<polygon points="2150,1250 2180,1255 2192.5,1260 2197.5,1287.5 2200,1325 2207.5,1346.2 2222.5,1375 2216.2,1406.2 2236.2,1435 2175,1428.8 2147.5,1426.2 2125,1428.8 2108.8,1437.5 2102.5,1400 2087.5,1395 2088.8,1381.2 2102.5,1380 2098.8,1357.5 2102.5,1342.5 2117.5,1325 2135,1312.5 2150,1287.5 2147.5,1265" fill="#E60000"/>
<polygon points="2230,1185 2298,1170 2298,1170 2328,1166 2405.5,1166 2425.5,1159 2453,1164 2448,1181 2468,1200 2460.5,1230 2492.5,1285 2507.5,1325 2507.5,1361.2 2475,1362.5 2405,1372.5 2360,1380 2335,1375 2310,1362.5 2275,1363.8 2261.2,1346.2 2262.5,1330 2252.5,1317.5 2260,1310 2247.5,1292.5 2237.5,1273.8 2255,1267.5 2256.2,1250 2225,1200" fill="#FFAA00"/>
<polygon points="2275,1363.8 2292.5,1360 2310,1362.5 2335,1375 2360,1380 2405,1372.5 2475,1362.5 2520,1361.2 2522.5,1367.5 2536.2,1372.5 2525,1387.5 2540,1395 2532.5,1410 2537.5,1425 2495,1455 2490,1475 2485,1487.5 2490,1502.5 2501.2,1518.8 2473.8,1542.5 2442.5,1515 2430,1511.2 2410,1516.2 2412.5,1530 2405,1537.5 2385,1546.2 2375,1545 2375,1552.5 2350,1560 2348.8,1577.5 2367.5,1571.2 2382.5,1567.5 2386.2,1522.5 2381.2,1487.5 2370,1440 2330,1442.5 2307.5,1433.8 2282.5,1430 2262.5,1433.8 2240,1433.8 2241.2,1425 2237.5,1412.5 2248.8,1400 2265,1397.5 2270,1407.5 2287.5,1406.2 2297.5,1400 2287.5,1395 2292.5,1375" fill="#730000"/>
<polygon points="2348.8,1577.5 2367.5,1571.2 2382.5,1567.5 2385,1546.2 2405,1537.5 2412.5,1530 2410,1516.2 2430,1511.2 2442.5,1515 2473.8,1542.5 2471.2,1575 2467.5,1625 2450,1627.5 2420,1617.5 2392.5,1640 2385,1625 2367.5,1600 2348.8,1585" fill="#FFAA00"/>
<polygon points="2102.5,1443.8 2108.8,1437.5 2125,1428.8 2147.5,1426.2 2175,1428.8 2236.2,1435 2240,1533.8 2215,1535 2235,1600 2252.5,1645 2235,1671 2225,1686 2185,1718.5 2170,1686 2145,1661 2115,1641 2100,1616 2095,1586 2105,1551" fill="#FFAA00"/>
<polygon points="3701.2,1185 3718.8,1186.2 3720,1193.8 3760,1208.8 3752.5,1252.5 3745,1267.5 3735,1290 3750,1330 3745,1333.8 3732.5,1345 3730,1365 3716.2,1358.8 3700,1340 3670,1307.5 3650,1287.5 3655,1275 3660,1262.5 3636.2,1233.8 3662.5,1220 3690,1203.8 3701.2,1195" fill="#FFAA00"/>
<polygon points="3861,1167.5 3886,1175 3911,1180 3936,1147.5 3956,1135 3981,1137.5 3986,1165 3982.5,1195 3972.5,1225 3970,1255 3985,1278.8 3970,1290 3957.5,1300 3942.5,1305 3930,1320 3910,1320 3890,1320 3882.5,1305 3880,1280 3857.5,1255 3852.5,1230 3845,1205 3843.5,1190" fill="#FFAA00"/>
<polygon points="4096,1037.5 4128.5,1060 4098.5,1105 4101,1132.5 4116,1150 4141,1135 4156,1132.5 4156,1157.5 4121,1157.5 4116,1180 4086,1195 4006,1175 4011,1160 4041,1145 4076,1125 4081,1100 4093.5,1080" fill="#FFAA00"/>
<polygon points="3606.2,1387.5 3620,1383.8 3650,1385 3670,1365 3696.2,1357.5 3730,1370 3735,1367.5 3767.5,1377.5 3767.5,1387.5 3780,1383.8 3805,1395 3840,1395 3855,1407.5 3867.5,1413.8 3895,1415 3927.5,1422.5 3942.5,1415 3945,1395 3937.5,1380 3927.5,1360 3942.5,1318.8 3970,1290 3985,1278.8 3995,1280 4007.5,1295 4030,1285 4050,1290 4080,1295 4110,1280 4134,1282.5 4134,1585.5 3985,1585.5 3982.5,1565 3995,1552.5 3992.5,1530 3970,1527.5 3950,1487.5 3920,1450 3910,1467.5 3892.5,1477.5 3870,1480 3847.5,1505 3830,1517.5 3825,1520 3770,1520 3735,1515 3700,1517.5 3687.5,1530 3700,1547.5 3710,1565 3715,1585.5 3635,1585.5 3647.5,1555 3645,1535 3635,1512.5 3610,1502.5 3595,1492.5 3581.2,1471.2 3592.5,1455 3615,1430 3606.2,1407.5" fill="#FF5500"/>
<polygon points="4100,1282.5 4127.5,1285 4135,1298.8 4155,1307.5 4160,1315 4152.5,1345 4172.5,1350 4175,1372.5 4167.5,1390 4165,1405.5 4167.5,1400 4172.5,1425 4180,1450 4205,1467.5 4167.5,1485 4130,1500 4105,1510 4075,1510 4075,1400" fill="#FF5500"/>
<polygon points="4007.5,1255 4035,1237.5 4067.5,1230 4070,1242.5 4057.5,1245 4050,1262.5 4035,1262.5" fill="#FF5500"/>
<polygon points="3863.8,1373.8 3877.5,1365 3905,1358.8 3927.5,1360 3937.5,1380 3945,1395 3942.5,1415 3927.5,1422.5 3895,1415 3867.5,1413.8 3863.8,1397.5" fill="#FFAA00"/>
<polygon points="3995,1341.2 4070,1332.5 4072.5,1345 4085,1355 4097.5,1405 4100,1440 4060,1442.5 4045,1455 4035,1467.5 4027.5,1450 4022.5,1430 4012.5,1417.5 3985,1397.5 3972.5,1390 3972.5,1375" fill="#730000"/>
<polygon points="3825,1520 3830,1517.5 3847.5,1505 3870,1480 3892.5,1477.5 3910,1467.5 3920,1450 3950,1487.5 3970,1527.5 3992.5,1530 3995,1552.5 3982.5,1565 3985,1585.5 3985,1586 3972.5,1596 3965,1608.5 3930,1611 3905,1617.2 3882.5,1619.8 3870,1618.5 3847.5,1628.5 3831.2,1629.8 3822.5,1611 3812.5,1586 3810,1585.5 3815,1570 3835,1540 3850,1527.5" fill="#E60000"/>
<polygon points="3687.5,1530 3700,1517.5 3735,1515 3770,1520 3825,1520 3850,1527.5 3835,1540 3815,1570 3810,1585.5 3812.5,1586 3810,1591 3767.5,1613.5 3740,1628.5 3745,1616 3720,1607.2 3710,1593.5 3710,1586 3715,1585.5 3710,1565 3700,1547.5" fill="#FFAA00"/>
<polygon points="3635,1585.5 3647.5,1555 3645,1535 3665,1542.5 3687.5,1530 3700,1547.5 3710,1565 3715,1585.5 3710,1586 3715,1598.5 3720,1607.2 3745,1616 3740,1628.5 3720,1636 3710,1648.5 3705,1663.5 3697.5,1668.5 3677.5,1673.5 3670,1658.5 3655,1648.5 3642.5,1648.5 3635,1636 3625,1623.5 3617.5,1586" fill="#FF5500"/>
<polygon points="3712.5,1678.5 3710,1648.5 3720,1636 3740,1628.5 3750,1623.5 3767.5,1613.5 3810,1591 3822.5,1611 3831.2,1629.8 3807.5,1646 3817.5,1668.5 3815,1691 3810,1728.5 3805,1736 3785,1746 3767.5,1741 3752.5,1748.5 3735,1738.5 3710,1726 3692.5,1716" fill="#FFAA00"/>
<polygon points="3807.5,1646 3831.2,1629.8 3847.5,1628.5 3870,1618.5 3882.5,1619.8 3885,1638.5 3845,1676 3840,1686 3817.5,1691 3817.5,1668.5" fill="#FFAA00"/>
<polygon points="3815,1691 3840,1686 3860,1696 3862.5,1726 3837.5,1736 3830,1741 3810,1728.5" fill="#FFAA00"/>
<polygon points="3985,1586 4117.5,1586 4120,1611 4115,1636 4117.5,1673.5 4120,1686 4092.5,1718.5 4072.5,1726 4050,1728.5 4027.5,1733.5 4010,1721 4000,1703.5 3995,1691 3972.5,1681 3960,1658.5 3950,1644.8 3970,1628.5 3962.5,1616 3965,1608.5 3972.5,1596" fill="#FF5500"/>
<polygon points="3466,1623.5 3528.5,1636 3561,1635 3596,1666 3608.5,1653.5 3641,1648.5 3656,1648.5 3670,1658.5 3677.5,1673.5 3697.5,1668.5 3712.5,1678.5 3692.5,1716 3710,1726 3735,1738.5 3752.5,1748.5 3767.5,1741 3785,1746 3805,1736 3777.5,1783.5 3760,1788.5 3740,1783.5 3720,1783.5 3691,1789.5 3688.5,1761 3647.5,1758.5 3642.5,1746 3590,1743.5 3583.5,1748.5 3567.5,1758.5 3565,1803.5 3558.5,1823.5 3446,1791 3436,1786 3438,1711 3451,1711" fill="#730000"/>
<polygon points="3567.5,1758.5 3583.8,1753.5 3583.8,1748.5 3590,1743.5 3622.5,1746 3642.5,1746 3647.5,1758.5 3688.8,1761 3691.2,1789.8 3690,1811 3687.5,1836 3695,1861 3700,1876 3690,1886 3685,1901 3696.2,1911 3685,1918.5 3682.5,1941 3662.5,1953.5 3630,1958.5 3610,1953.5 3590,1941 3575,1931 3546,1911 3531,1886 3546,1836 3565,1803.5" fill="#FF5500"/>
<polygon points="4277.5,1100 4295,1107.5 4305,1102.5 4320,1101.2 4340,1082.5 4350,1060 4362.5,1053.8 4380,1072.5 4395,1082.5 4412.5,1075 4427.5,1062.5 4450,1060 4465,1047.5 4475,1046.2 4475,1152.5 4477.5,1200 4500,1235 4497.5,1260 4500,1280 4495,1292.5 4497.5,1307.5 4508.8,1308.8 4515,1375 4525,1405.5 4535,1415 4558.8,1432.5 4550,1462.5 4546.2,1482.5 4540,1482.5 4515,1477.5 4495,1472.5 4465,1467.5 4455,1445 4437.5,1437.5 4415,1440 4400,1445 4380,1457.5 4355,1460 4340,1457.5 4341.2,1435 4335,1415 4297.5,1410 4295,1400 4295,1405.5 4290,1375 4270,1342.5 4255,1312.5 4238.8,1291.2 4246.2,1282.5 4247.5,1240 4242.5,1227.5 4255,1215 4285,1202.5 4297.5,1200 4317.5,1200 4265,1142.5" fill="#E60000"/>
<polygon points="4350,1060 4362.5,1053.8 4380,1072.5 4395,1082.5 4412.5,1075 4427.5,1062.5 4450,1060 4465,1047.5 4475,1046.2 4475,1152.5 4465,1150 4437.5,1148.8 4405,1151.2 4380,1162.5 4363.8,1170 4352.5,1150 4355,1135 4327.5,1122.5 4330,1110 4322.5,1107.5 4345,1092.5" fill="#FFAA00"/>
<polygon points="4437.5,1148.8 4475,1152.5 4477.5,1200 4500,1235 4497.5,1260 4480,1255 4455,1250 4437.5,1246.2 4412.5,1248.8 4413.8,1225 4417.5,1195 4425,1167.5" fill="#FF5500"/>
<polygon points="4412.5,1248.8 4437.5,1246.2 4497.5,1260 4500,1280 4495,1292.5 4497.5,1307.5 4480,1306.2 4477.5,1320 4460,1328.8 4452.5,1322.5 4440,1331.2 4427.5,1330 4420,1320 4405,1308.8 4385,1310 4370,1287.5 4358.8,1273.8 4365,1262.5 4390,1258.8" fill="#FFD37F" stroke="#fff"/>
<polygon points="4135,1298.8 4187.5,1282.5 4215,1283.8 4230,1280 4238.8,1291.2 4255,1312.5 4270,1342.5 4290,1375 4285,1372.5 4270,1375 4265,1382.5 4247.5,1385 4227.5,1390 4217.5,1380 4205,1377.5 4197.5,1367.5 4175,1372.5 4172.5,1350 4152.5,1345 4160,1315 4155,1307.5" fill="#FF5500"/>
<polygon points="4240,1405.5 4237.5,1392.5 4270,1375 4285,1372.5 4290,1375 4295,1405.5 4295,1400 4297.5,1410 4335,1415 4341.2,1435 4340,1457.5 4312.5,1461.2 4280,1467.5 4275,1460 4280,1432.5 4245,1425 4240,1400" fill="#FFAA00"/>
<polygon points="4288.8,1541.2 4375,1590 4380,1600 4387.5,1635 4400,1645 4415,1660 4380,1685 4370,1695 4365,1725 4370,1750 4380,1775 4392.5,1785 4412.5,1805.5 4455,1842.5 4447.5,1857.5 4455,1865 4452.5,1895 4437.5,1920 4427.5,1950 4425,1942.5 4392.5,1920 4370,1900 4352.5,1882.5 4322.5,1886.2 4290,1875 4267.5,1870 4250,1875 4220,1858.8 4185,1857.5 4170,1862.5 4142.5,1880 4127.5,1883.8 4125,1895 4112.5,1900 4105,1910 4106,1908.5 4081,1911 4075,1893.5 4060,1868.5 4055,1841 4062.5,1821 4067.5,1798.5 4048.5,1797 4067.5,1793.5 4062.5,1773.5 4058.5,1761 4073.5,1751 4088.5,1748.5 4091,1741 4094.5,1748.5 4116,1743.5 4141,1771 4166,1761 4171,1731 4156,1706 4170,1707.5 4205,1712.5 4200,1700 4222.5,1687.5 4255,1682.5 4265,1672.5 4277.5,1660 4297.5,1650 4305,1635 4315,1605 4325,1578.8" fill="#E60000"/>
<polygon points="4206,1711 4246,1706 4276,1711 4291,1721 4266,1761 4251,1791 4246,1806 4226,1791 4226,1776 4216,1741" fill="#FF5500"/>
<polygon points="4181,1841 4196,1826 4211,1801 4226,1791 4246,1806 4256,1831 4271,1856 4276,1871 4246,1866 4226,1853.5 4186,1853.5 4171,1861" fill="#FF5500"/>
<polygon points="4105,1510 4130,1500 4167.5,1485 4205,1467.5 4210,1500 4207.5,1540 4203.8,1575 4190,1590 4180,1607.5 4152.5,1610 4147.5,1600 4130,1587.5 4110,1585 4105,1560 4090,1540 4085,1520 4095,1510" fill="#E60000"/>
<polygon points="4205,1467.5 4215,1462.5 4240,1457.5 4265,1465 4280,1467.5 4312.5,1461.2 4310,1475 4305,1485 4312.5,1500 4313.8,1517.5 4318.8,1522.5 4288.8,1541.2 4325,1578.8 4315,1605 4305,1635 4297.5,1650 4277.5,1660 4265,1672.5 4255,1677.5 4245,1650 4222.5,1632.5 4215,1620 4180,1607.5 4190,1590 4203.8,1575 4207.5,1540 4210,1500" fill="#730000"/>
<polygon points="4180,1607.5 4215,1620 4222.5,1632.5 4245,1650 4255,1677.5 4235,1682.5 4205,1680 4167.5,1675 4137.5,1665 4142.5,1652.5 4160,1640 4167.5,1625" fill="#FFAA00"/>
<polygon points="4165,1687.5 4222.5,1687.5 4205,1707.5 4170,1707.5" fill="#FFAA00"/>
<polygon points="4312.5,1461.2 4340,1457.5 4355,1460 4380,1457.5 4400,1445 4415,1440 4437.5,1437.5 4455,1445 4465,1467.5 4495,1472.5 4515,1477.5 4540,1482.5 4546.2,1500 4555,1525 4567.5,1520 4570,1500 4562.5,1475 4567.5,1472.5 4580,1500 4580,1530 4572.5,1562.5 4575,1590 4582.5,1625 4587.5,1650 4602.5,1665 4600,1687.5 4595,1707.5 4592.5,1725 4590,1740 4555,1732.5 4530,1722.5 4505,1720 4490,1732.5 4470,1750 4465,1775 4445,1785 4425,1770 4390,1770 4380,1775 4370,1750 4365,1725 4370,1695 4380,1685 4415,1660 4400,1645 4387.5,1635 4380,1600 4375,1590 4325,1578.8 4288.8,1541.2 4318.8,1522.5 4313.8,1517.5 4312.5,1500 4305,1485 4310,1475" fill="#730000"/>
<polygon points="4470,1750 4490,1732.5 4505,1720 4530,1722.5 4555,1732.5 4590,1740 4591.2,1775 4595,1805.5 4597.5,1830 4587.5,1875 4577.5,1937.5 4582.5,1957.5 4572.5,1975 4576.2,1992.5 4562.5,2027.5 4557.5,2028.8 4537.5,2017.5 4540,1947.5 4522.5,1940 4520,1907.5 4495,1897.5 4517.5,1872.5 4527.5,1825 4490,1800 4467.5,1790 4465,1775" fill="#E60000"/>
<polygon points="4380,1775 4390,1770 4425,1770 4445,1785 4465,1775 4467.5,1790 4490,1805.5 4527.5,1825 4517.5,1872.5 4495,1897.5 4520,1907.5 4522.5,1940 4540,1947.5 4537.5,2017.5 4520,2026.2 4505,2015 4487.5,2020 4472.5,2007.5 4460,2005 4445,2013.8 4437.5,1997.5 4427.5,1985 4420,1965 4427.5,1950 4437.5,1920 4452.5,1895 4455,1865 4447.5,1857.5 4455,1842.5 4412.5,1800 4392.5,1785" fill="#A80000"/>
<polygon points="4541.2,1483.8 4546.2,1500 4555,1525 4567.5,1520 4570,1500 4562.5,1475 4552.5,1460" fill="#BEFFE8" stroke="none"/>
</g>
<g class="mun" fill="none">
<polyline points="3615,1430 3635,1426.2 3660,1442.5 3680,1450 3700,1462.5 3712.5,1470"/>
<polyline points="3735,1367.5 3750,1405 3751.2,1430 3747.5,1442.5 3757.5,1457.5 3752.5,1502.5 3750,1515"/>
<polyline points="3712.5,1470 3720,1490 3732.5,1510 3750,1502.5"/>
<polyline points="3927.5,1422.5 3935,1437.5 3920,1450"/>
<polyline points="3927.5,1422.5 3945,1415 3965,1435 4027.5,1430"/>
<polyline points="3945,1395 3972.5,1390"/>
<polyline points="3975,1490 3985,1490 4030,1475 4035,1467.5"/>
<polyline points="3975,1490 3980,1525 3992.5,1530"/>
<polyline points="4085,1355 4097.5,1285"/>
<polyline points="4075,1442.5 4075,1485"/>
<polyline points="4100,1440 4134,1430"/>
<polyline points="4445,1680 4450,1720 4480,1717.5 4485,1737.5"/>
<polyline points="4450,1675 4475,1670 4510,1675"/>
<polyline points="4540,1590 4530,1600 4515,1625 4527.5,1650 4515,1670"/>
<polyline points="4290,1710 4320,1720 4340,1727.5 4365,1725"/>
<polyline points="4325,1578.8 4375,1590"/>
<polyline points="4141,1771 4151,1791 4166,1811 4181,1841"/>
<polyline points="4291,1721 4266,1761 4251,1791"/>
<polyline points="4317.5,1200 4352.5,1150"/>
<polyline points="4363.8,1170 4342.5,1187.5 4380,1162.5"/>
<polyline points="4325,1320 4340,1350 4360,1357.5 4352.5,1380 4347.5,1405.5"/>
</g>
<g class="rd">
<polyline points="1235,1272.5 1265,1290 1315,1305 1335,1315 1365,1322.5 1410,1307.5 1450,1290 1490,1292.5 1515,1285 1545,1260 1565,1235 1590,1217.5 1620,1215 1650,1212.5 1700,1220 1765,1225 1805,1205 1850,1195 1910,1185 1970,1170 2000,1170 2015,1195 2017.5,1250 2037.5,1272.5 2052.5,1300 2057.5,1325 2082.5,1338.8 2102.5,1345 2200,1350 2240,1347.5 2275,1360 2310,1365 2335,1380 2360,1397.5 2390,1420 2425,1442.5 2465,1460 2490,1462.5 2515,1447.5 2545,1425 2574,1405 2608,1391 2668,1376 2733,1350 2765.5,1332.5 2798,1355 2828,1406 2863,1421 2898,1426 2933,1446 2963,1466 2983,1506 2998,1521 3023,1531 3068,1511 3123,1498.5 3178,1506 3223,1516 3258,1536 3298,1556 3348,1571 3398,1596 3446,1621 3491,1631 3536,1646 3576,1661 3611,1671 3646,1681 3666,1691 3706,1721 3746,1741 3776,1731 3806,1731 3846,1721 3896,1696 3936,1686 3986,1686 4036,1671 4076,1661 4116,1661 4156,1671 4206,1681 4266,1691 4306,1701 4366,1698.5 4416,1661 4446,1651 4496,1641 4536,1631 4561,1621"/>
<polyline points="1187.5,1300 1190,1361 1190,1361 1170,1396"/>
<polyline points="2122.5,695 2115,720 2117.5,750 2105,790 2085,800 2060,820 2045,840 2055,850 2057.5,890 2065,920 2062.5,950 2045,975 2020,1005 2010,1030 2002.5,1070 1995,1105 1995,1140 1975,1170"/>
<polyline points="2015,1210 2045,1200 2080,1195 2125,1175 2150,1165 2190,1150 2220,1130 2260,1125 2290,1115"/>
<polyline points="2328,1166 2333,1195 2348,1220 2360.5,1250 2360,1257.5 2345,1295 2336.2,1325 2337.5,1355 2336.2,1380"/>
<polyline points="1235,1888.5 1270,1898.5 1315,1891 1355,1911 1385,1901 1420,1898.5 1435,1876 1460,1853.5 1500,1841 1525,1841 1550,1816 1575,1798.5 1600,1808.5 1630,1786 1655,1766 1670,1751 1687.5,1721 1687.5,1701 1700,1688.5 1735,1676 1765,1651 1790,1626 1840,1618.5 1920,1593.5 1960,1601 2000,1618.5 2025,1625 2037.5,1607.5 2065,1595 2077.5,1582.5 2102.5,1572.5 2117.5,1571.2 2155,1547.5 2156.2,1532.5 2165,1520 2180,1515 2215,1512.5 2265,1516.2 2317.5,1511.2 2330,1497.5 2355,1480 2400,1477.5 2425,1471.2 2455,1462.5"/>
<polyline points="2452.5,1465 2445,1500 2435,1520 2425,1545 2422.5,1570 2415,1587.5 2430,1612.5 2445,1627.5 2450,1640 2462.5,1635 2465,1655.5"/>
<polyline points="3446,1656 3423,1681 3398,1706 3338,1721 3298,1736 3248,1756 3198,1766 3148,1781 3098,1801 3078,1826 3038,1866 2998,1891 2963,1906 2928,1926 2888,1956 2848,1986 2818,2011 2788,2036 2773,2061 2738,2081 2708,2111 2678,2141 2648,2172 2618,2212 2578,2247 2518,2282 2483,2307"/>
<polyline points="3646,1691 3646,1741 3641,1786 3638.5,1836 3631,1886 3606,1921 3571,1946 3541,1976 3526,2011 3486,2041 3466,2086 3466,2172"/>
<polyline points="3656,1681 3676,1641 3681,1591 3691,1546 3686,1511 3716,1476 3736,1461 3726,1436 3696,1421 3646,1391 3631,1361 3611,1330 3596,1290 3546,1250 3516,1220 3491,1180 3456,1165 3446,1150"/>
<polyline points="3446,1007.5 3453.5,1040 3456,1080 3448.5,1125"/>
<polyline points="3178,1055 3198,1042.5 3228,1035 3273,1027.5"/>
<polyline points="3283,1027.5 3303,1010 3313,980 3325.5,960 3353,967.5 3398,977.5 3446,985"/>
<polyline points="4362.5,1060 4345,1092.5 4322.5,1107.5 4317.5,1125 4325,1155 4335,1180 4342.5,1207.5 4340,1237.5 4325,1275 4320,1300 4317.5,1325 4317.5,1405.5 4337.5,1435 4355,1475 4372.5,1507.5 4377.5,1535 4400,1565 4417.5,1580 4455,1600 4495,1625 4510,1675 4502.5,1712.5 4485,1737.5 4472.5,1762.5 4470,1805.5 4465,1825 4452.5,1862.5 4452.5,1895 4437.5,1920 4427.5,1950 4423.8,1980"/>
<polyline points="4510,1675 4530,1650 4550,1625 4555,1590 4552.5,1555 4562.5,1535 4575,1530"/>
</g>
<g class="st">
<text x="2351" y="477.5" letter-spacing="15.2">RIO GRANDE DO NORTE</text><text x="2357" y="483.5" letter-spacing="15.2" style="fill:#c9c9c9;fill-opacity:.85">RIO GRANDE DO NORTE</text>
<text x="1606" y="2292" letter-spacing="14.6">PERNAMBUCO</text><text x="1612" y="2298" letter-spacing="14.6" style="fill:#c9c9c9;fill-opacity:.85">PERNAMBUCO</text>
<text x="1076" y="384" text-anchor="middle">C</text><text x="1082" y="390" text-anchor="middle" style="fill:#c9c9c9;fill-opacity:.85">C</text>
<text x="1076" y="461" text-anchor="middle">E</text><text x="1082" y="467" text-anchor="middle" style="fill:#c9c9c9;fill-opacity:.85">E</text>
<text x="1076" y="537.6" text-anchor="middle">A</text><text x="1082" y="543.6" text-anchor="middle" style="fill:#c9c9c9;fill-opacity:.85">A</text>
<text x="1076" y="613.8" text-anchor="middle">R</text><text x="1082" y="619.8" text-anchor="middle" style="fill:#c9c9c9;fill-opacity:.85">R</text>
<text x="1076" y="690.5" text-anchor="middle">Á</text><text x="1082" y="696.5" text-anchor="middle" style="fill:#c9c9c9;fill-opacity:.85">Á</text>
</g>
<g>
<rect class="bx" x="1310.5" y="1282.5" width="67" height="67"/><rect x="1338" y="1291.21" width="12" height="49.58"/><rect x="1327" y="1303.21" width="34" height="9.5"/>
<rect class="bx" x="1489.5" y="1237.5" width="67" height="67"/><rect x="1517" y="1246.21" width="12" height="49.58"/><rect x="1506" y="1258.21" width="34" height="9.5"/>
<rect class="bx" x="2242.5" y="814.5" width="67" height="67"/><rect x="2270" y="823.21" width="12" height="49.58"/><rect x="2259" y="835.21" width="34" height="9.5"/>
<rect class="bx" x="2280.5" y="945.5" width="67" height="67"/><rect x="2308" y="954.21" width="12" height="49.58"/><rect x="2297" y="966.21" width="34" height="9.5"/>
<rect class="bx" x="1346.5" y="1481.5" width="67" height="67"/><rect x="1374" y="1490.21" width="12" height="49.58"/><rect x="1363" y="1502.21" width="34" height="9.5"/>
<rect class="bx" x="2426.5" y="1427.5" width="67" height="67"/><rect x="2454" y="1436.21" width="12" height="49.58"/><rect x="2443" y="1448.21" width="34" height="9.5"/>
<rect class="bx" x="2896.5" y="1414.5" width="67" height="67"/><rect x="2924" y="1423.21" width="12" height="49.58"/><rect x="2913" y="1435.21" width="34" height="9.5"/>
<rect class="bx" x="2802.5" y="1609.5" width="67" height="67"/><rect x="2830" y="1618.21" width="12" height="49.58"/><rect x="2819" y="1630.21" width="34" height="9.5"/>
<rect class="bx" x="3391.5" y="1884.5" width="67" height="67"/><rect x="3419" y="1893.21" width="12" height="49.58"/><rect x="3408" y="1905.21" width="34" height="9.5"/>
<rect class="bx" x="2925.5" y="2155.5" width="67" height="67"/><rect x="2953" y="2164.21" width="12" height="49.58"/><rect x="2942" y="2176.21" width="34" height="9.5"/>
<rect class="bx" x="3793.5" y="2098.5" width="67" height="67"/><rect x="3821" y="2107.21" width="12" height="49.58"/><rect x="3810" y="2119.21" width="34" height="9.5"/>
<rect class="bx" x="3607.5" y="1653.5" width="67" height="67"/><rect x="3635" y="1662.21" width="12" height="49.58"/><rect x="3624" y="1674.21" width="34" height="9.5"/>
<rect class="bx" x="3642.5" y="1604.5" width="67" height="67"/><rect x="3670" y="1613.21" width="12" height="49.58"/><rect x="3659" y="1625.21" width="34" height="9.5"/>
<rect class="bx" x="4119.5" y="1521.5" width="67" height="67"/><rect x="4147" y="1530.21" width="12" height="49.58"/><rect x="4136" y="1542.21" width="34" height="9.5"/>
<rect class="bx" x="4190.5" y="1566.5" width="67" height="67"/><rect x="4218" y="1575.21" width="12" height="49.58"/><rect x="4207" y="1587.21" width="34" height="9.5"/>
<rect class="bx" x="4158.5" y="1608.5" width="67" height="67"/><rect x="4186" y="1617.21" width="12" height="49.58"/><rect x="4175" y="1629.21" width="34" height="9.5"/>
<rect class="bx" x="4191.5" y="1318.5" width="67" height="67"/><rect x="4219" y="1327.21" width="12" height="49.58"/><rect x="4208" y="1339.21" width="34" height="9.5"/>
<rect class="bx" x="4417.5" y="1598.5" width="67" height="67"/><rect x="4445" y="1607.21" width="12" height="49.58"/><rect x="4434" y="1619.21" width="34" height="9.5"/>
<rect class="bx" x="4460.5" y="1601.5" width="67" height="67"/><rect x="4488" y="1610.21" width="12" height="49.58"/><rect x="4477" y="1622.21" width="34" height="9.5"/>
<rect class="bx" x="4538.5" y="1462.5" width="67" height="67"/><rect x="4566" y="1471.21" width="12" height="49.58"/><rect x="4555" y="1483.21" width="34" height="9.5"/>
<rect class="bx" x="4538.5" y="1580.5" width="67" height="67"/><rect x="4566" y="1589.21" width="12" height="49.58"/><rect x="4555" y="1601.21" width="34" height="9.5"/>
<rect class="bx" x="4468.5" y="1728.5" width="67" height="67"/><rect x="4496" y="1737.21" width="12" height="49.58"/><rect x="4485" y="1749.21" width="34" height="9.5"/>
<rect class="bx" x="4278.5" y="1850.5" width="67" height="67"/><rect x="4306" y="1859.21" width="12" height="49.58"/><rect x="4295" y="1871.21" width="34" height="9.5"/>
<rect class="bx" x="4457.5" y="1887.5" width="67" height="67"/><rect x="4485" y="1896.21" width="12" height="49.58"/><rect x="4474" y="1908.21" width="34" height="9.5"/>
</g>
<g class="lab" text-anchor="middle">
<text x="2282" y="844.6">BDC</text>
<text x="2299" y="963.6">SBT</text>
<text x="2146" y="975.6">RDC</text>
<text x="1404" y="961.6">JCD</text>
<text x="1498" y="975.6">URU</text>
<text x="1328" y="1187.6">STH</text>
<text x="1459" y="1187.6">SJR</text>
<text x="1640" y="1194.6">SOU</text>
<text x="1273" y="1260.6">BMJ</text>
<text x="1532" y="1267.6">MZP</text>
<text x="1358" y="1350.6">CJZ</text>
<text x="1989" y="1238.6">PBL</text>
<text x="2362" y="1289.6">SJE</text>
<text x="1981" y="1409.6">CZR</text>
<text x="2154" y="1382.6">CDD</text>
<text x="2433" y="1454.6">PAT</text>
<text x="1846" y="1484.6">CRM</text>
<text x="1377" y="1513.6">SJP</text>
<text x="1706" y="1578.6">IGY</text>
<text x="2158" y="1576.6">CAT</text>
<text x="2423" y="1582.6">SJB</text>
<text x="1881" y="1624.6">PNC</text>
<text x="1663" y="1690.6">ITG</text>
<text x="2478" y="1684.6">TXE</text>
<text x="2178" y="1790.6">IMC</text>
<text x="1795" y="2031.6">PRI</text>
<text x="2574" y="2293.6">MON</text>
<text x="2792" y="1399.6">STL</text>
<text x="2884" y="1468.6">JDS</text>
<text x="3059" y="1529.6">JZN</text>
<text x="2816" y="1674.6">TPA</text>
<text x="3397" y="1016.6">NFT</text>
<text x="3482" y="1555.6">PCH</text>
<text x="3577" y="1724.6">CGA</text>
<text x="2930" y="1967.6">SEB</text>
<text x="2973" y="2050.6">CXX</text>
<text x="2965" y="2204.6">CNG</text>
<text x="3279" y="2134.6">BSM</text>
<text x="3409" y="1957.6">BQO</text>
<text x="3621" y="1865.6">QMD</text>
<text x="3762" y="2131.6">UMB</text>
<text x="3699" y="1281.6">CSG</text>
<text x="3696" y="1428.6">REM</text>
<text x="3653" y="1503.6">ESP</text>
<text x="3675" y="1585.6">SLR</text>
<text x="3680" y="1639.6">LGS</text>
<text x="3766" y="1566.6">ALN</text>
<text x="3762" y="1712.6">MSS</text>
<text x="3853" y="1669.6">SER</text>
<text x="3856" y="1729.6">RDB</text>
<text x="3813" y="1475.6">ARE</text>
<text x="3911" y="1240.6">BNN</text>
<text x="3915" y="1299.6">BBM</text>
<text x="3917" y="1354.6">PLZ</text>
<text x="3905" y="1408.6">PLS</text>
<text x="4006" y="1333.6">PPT</text>
<text x="4026" y="1409.6">GRB</text>
<text x="4122" y="1396.6">ARG</text>
<text x="4070" y="1279.6">STZ</text>
<text x="4047" y="1223.6">SDR</text>
<text x="4086" y="1162.6">CCR</text>
<text x="4209" y="1356.6">ITR</text>
<text x="4291" y="1439.6">CPM</text>
<text x="3963" y="1480.6">ALH</text>
<text x="4062" y="1516.6">MUG</text>
<text x="3911" y="1569.6">ALG</text>
<text x="4042" y="1656.6">GRM</text>
<text x="4161" y="1571.6">MAR</text>
<text x="4256" y="1581.6">SAP</text>
<text x="4221" y="1672.6">SBD</text>
<text x="4337" y="1670.6">CES</text>
<text x="4128" y="1711.6">RDP</text>
<text x="4243" y="1727.6">SMT</text>
<text x="4194" y="1783.6">PIL</text>
<text x="4108" y="1836.6">ITB</text>
<text x="4224" y="1853.6">JPG</text>
<text x="4346" y="1841.6">PDF</text>
<text x="4292" y="1274.6">MGP</text>
<text x="4414" y="1134.6">MTR</text>
<text x="4445" y="1228.6">BTÇ</text>
<text x="4431" y="1396.6">RTO</text>
<text x="4506" y="1465.6">LUC</text>
<text x="4597" y="1518.6">CBD</text>
<text x="4561" y="1572.6">CBD</text>
<text x="4441" y="1596.6">STR</text>
<text x="4461" y="1660.6">BYX</text>
<text x="4548" y="1694.6">JPA</text>
<text x="4541" y="1801.6">CDN</text>
<text x="4495" y="1859.6">ALD</text>
<text x="4558" y="1938.6">PIT</text>
<text x="4481" y="1993.6">CAP</text>
</g>
<g class="oc">
<text transform="translate(4437,783) rotate(52)" y="23">O</text>
<text transform="translate(4480,844) rotate(62)" y="23">C</text>
<text transform="translate(4511,909) rotate(68)" y="23">E</text>
<text transform="translate(4534,972) rotate(71)" y="23">A</text>
<text transform="translate(4554,1037) rotate(74)" y="23">N</text>
<text transform="translate(4572,1107) rotate(76)" y="23">O</text>
<text transform="translate(4581,2330) rotate(86)" y="23">A</text>
<text transform="translate(4585,2397) rotate(88)" y="23">T</text>
<text transform="translate(4581,2448) rotate(90)" y="23">L</text>
<text transform="translate(4577,2511) rotate(93)" y="23">Â</text>
<text transform="translate(4568,2584) rotate(96)" y="23">N</text>
<text transform="translate(4558.5,2651.6) rotate(99)" y="23">T</text>
<text transform="translate(4549,2704) rotate(101)" y="23">I</text>
<text transform="translate(4536,2758) rotate(104)" y="23">C</text>
<text transform="translate(4515.5,2827) rotate(107)" y="23">O</text>
</g>
<polygon points="4237.5,750 4296,925 4237.5,887.5 4178.5,925" fill="#b2b2b2"/>
<text x="4237" y="722.5" text-anchor="middle" style="font-family:'Liberation Serif',serif;font-size:66px;fill:#b2b2b2">N</text>
<g>
<rect x="3873.7" y="17.2" width="787.5" height="583.1" fill="#fff" stroke="#000" stroke-width="5.4"/>
<polygon points="4155.6,43.9 4161.4,49.7 4167.1,63.0 4161.4,80.2 4167.1,91.7 4176.6,99.3 4197.6,89.8 4216.7,82.1 4232.0,86.0 4243.5,91.7 4260.7,82.1 4277.1,55.4 4283.6,66.9 4289.3,87.9 4298.9,93.6 4297.0,108.9 4312.3,116.5 4325.6,124.2 4346.6,128.0 4367.6,135.6 4373.4,147.1 4384.8,147.1 4407.8,152.8 4430.7,154.7 4449.8,164.3 4465.1,179.6 4484.2,187.2 4497.5,191.0 4499.4,206.3 4505.2,229.2 4495.6,246.4 4476.5,267.4 4465.1,278.9 4444.1,301.8 4440.2,336.2 4434.5,366.7 4423.0,382.0 4415.4,405.0 4400.1,424.1 4361.9,431.7 4350.5,443.2 4331.4,450.8 4314.2,462.3 4308.4,481.4 4306.5,500.5 4293.2,511.9 4281.7,534.8 4262.6,553.9 4249.2,573.0 4255.0,553.9 4232.0,542.5 4216.7,532.9 4199.6,525.3 4216.7,500.5 4239.7,485.2 4247.3,473.7 4235.8,462.3 4239.7,443.2 4226.3,439.3 4218.7,418.3 4193.8,414.5 4190.0,385.8 4195.7,359.1 4184.3,343.8 4186.2,338.1 4161.4,336.2 4155.6,305.6 4144.2,299.9 4109.8,286.5 4092.6,275.1 4088.8,250.2 4079.2,250.2 4046.7,271.2 4020.0,270.5 4018.1,252.1 4008.5,257.9 3985.6,248.3 3979.9,233.0 3972.2,221.6 3983.7,206.3 3985.6,189.1 4002.8,179.6 4025.7,175.7 4031.5,131.8 4023.8,114.6 4026.5,91.7 4048.7,89.8 4058.2,86.0 4075.4,105.1 4094.5,99.3 4117.4,86.0 4109.8,82.1 4104.0,70.7 4096.4,57.3 4117.4,61.1 4140.3,53.5" fill="#fff" stroke="#6e6e6e" stroke-width="1.2" stroke-linejoin="round"/>
<polyline points="3972.2,221.6 4025.7,225.4 4063.9,248.3 4088.8,250.2" fill="none" stroke="#6e6e6e" stroke-width="1.1"/>
<polyline points="4117.4,86.0 4125.1,95.5 4128.9,126.1 4140.3,135.6 4151.8,114.6 4176.6,112.7 4176.6,99.3" fill="none" stroke="#6e6e6e" stroke-width="1.1"/>
<polyline points="4176.6,112.7 4182.4,126.1 4212.9,145.2 4182.4,208.2 4186.2,217.8 4182.4,234.9 4142.3,236.9 4142.3,265.5 4161.4,267.4 4163.3,290.3 4155.6,305.6" fill="none" stroke="#6e6e6e" stroke-width="1.1"/>
<polyline points="4088.8,250.2 4113.6,225.4 4125.1,225.4 4142.3,236.9" fill="none" stroke="#6e6e6e" stroke-width="1.1"/>
<polyline points="4186.2,217.8 4205.3,242.6 4293.2,249.1" fill="none" stroke="#6e6e6e" stroke-width="1.1"/>
<polyline points="4297.0,108.9 4274.1,131.8 4264.5,129.9 4247.3,99.3 4232.0,86.0" fill="none" stroke="#6e6e6e" stroke-width="1.1"/>
<polyline points="4346.6,128.0 4346.6,145.2 4339.0,164.3 4316.1,187.2 4323.7,198.7 4308.4,213.9 4304.6,233.0 4293.2,249.1 4287.4,271.2 4289.3,290.3 4281.7,317.1 4262.6,332.4 4253.0,351.5 4255.0,366.7 4281.7,380.1" fill="none" stroke="#6e6e6e" stroke-width="1.1"/>
<polyline points="4323.7,198.7 4331.4,217.8 4342.8,229.2 4346.6,252.1 4342.8,275.1 4346.6,294.2 4325.6,298.0 4304.6,296.1 4289.3,290.3" fill="none" stroke="#6e6e6e" stroke-width="1.1"/>
<polyline points="4407.8,152.8 4396.3,168.1 4392.5,194.8 4388.7,208.2 4361.9,217.8 4350.5,236.9 4354.3,256.0 4342.8,275.1" fill="none" stroke="#6e6e6e" stroke-width="1.1"/>
<polyline points="4415.4,156.6 4419.2,191.0 4426.9,217.8 4415.4,236.9 4392.5,250.2 4365.7,263.6 4354.3,256.0" fill="none" stroke="#6e6e6e" stroke-width="1.1"/>
<polyline points="4426.9,217.8 4438.3,217.8" fill="none" stroke="#6e6e6e" stroke-width="1.1"/>
<polyline points="4415.4,236.9 4426.9,246.4 4438.3,236.9" fill="none" stroke="#6e6e6e" stroke-width="1.1"/>
<polyline points="4465.1,179.6 4461.2,191.0 4451.7,198.7" fill="none" stroke="#6e6e6e" stroke-width="1.1"/>
<polyline points="4457.4,240.7 4476.5,263.6" fill="none" stroke="#6e6e6e" stroke-width="1.1"/>
<polyline points="4457.4,252.1 4453.6,267.4 4461.2,278.9" fill="none" stroke="#6e6e6e" stroke-width="1.1"/>
<polyline points="4346.6,294.2 4348.5,320.9 4369.6,313.3 4384.8,319.0 4407.8,328.5 4426.9,336.2 4419.2,359.1 4423.0,382.0" fill="none" stroke="#6e6e6e" stroke-width="1.1"/>
<polyline points="4348.5,320.9 4331.4,336.2 4327.5,362.9 4300.8,366.7 4281.7,380.1 4270.2,401.1 4255.0,422.1 4239.7,443.2" fill="none" stroke="#6e6e6e" stroke-width="1.1"/>
<polyline points="4281.7,380.1 4293.2,387.8 4327.5,389.7 4335.2,412.6 4339.0,427.9 4361.9,424.1 4400.1,405.0" fill="none" stroke="#6e6e6e" stroke-width="1.1"/>
<polyline points="4195.7,359.1 4216.7,349.6 4247.3,355.3 4253.0,351.5" fill="none" stroke="#6e6e6e" stroke-width="1.1"/>
<polyline points="4255.0,422.1 4285.5,424.1 4297.0,439.3 4314.2,462.3" fill="none" stroke="#6e6e6e" stroke-width="1.1"/>
<polyline points="4235.8,462.3 4274.1,477.5 4308.4,469.9" fill="none" stroke="#6e6e6e" stroke-width="1.1"/>
<polyline points="4247.3,473.7 4247.3,483.3 4270.2,487.1 4306.5,500.5" fill="none" stroke="#6e6e6e" stroke-width="1.1"/>
<polyline points="4400.1,405.0 4411.6,366.7 4423.0,364.8" fill="none" stroke="#6e6e6e" stroke-width="1.1"/>
<polyline points="4318.0,328.5 4329.4,327.8 4327.5,334.3 4318.0,334.3 4318.0,328.5" fill="none" stroke="#6e6e6e" stroke-width="1.1"/>
<polygon points="4449.0,213.9 4453.6,208.2 4461.2,209.4 4465.8,204.4 4470.8,206.3 4469.7,210.9 4476.5,209.4 4484.2,208.2 4499.4,209.4 4501.4,219.7 4499.4,229.2 4491.8,228.5 4480.3,230.0 4470.8,233.0 4468.9,225.4 4459.3,224.6 4449.8,221.6" fill="#FFD37F"/>
<rect x="4440.3" y="199.8" width="66.8" height="39" fill="none" stroke="#e60000" stroke-width="4.6"/>
</g>
<text x="1072" y="152" xml:space="preserve" textLength="2700" lengthAdjust="spacingAndGlyphs" style="font-size:66.6px;font-weight:bold">COVID-19 NO ESTADO DA PARAÍBA: CASOS CONFIRMADOS E  ÓBITOS (09/05/2020)</text>
<text x="137" y="96.5" textLength="438" lengthAdjust="spacingAndGlyphs" style="font-size:44px;font-weight:bold">MUNICÍPIOS/SIGLAS</text>
<g class="lst">
<text transform="translate(37,193.0) scale(0.82,1)" xml:space="preserve">Água Branca: AUB</text>
<text transform="translate(37,231.3) scale(0.82,1)" xml:space="preserve">Aguiar: AGR</text>
<text transform="translate(37,269.5) scale(0.82,1)" xml:space="preserve">Alagoa Grande: ALG</text>
<text transform="translate(37,307.8) scale(0.82,1)" xml:space="preserve">Alagoa Nova: ALN</text>
<text transform="translate(37,346.1) scale(0.82,1)" xml:space="preserve">Alagoinha : ALH</text>
<text transform="translate(37,384.3) scale(0.82,1)" xml:space="preserve">Alcantil: ACT</text>
<text transform="translate(37,422.6) scale(0.82,1)" xml:space="preserve">Algodão De Jandaíra: AJA</text>
<text transform="translate(37,460.9) scale(0.82,1)" xml:space="preserve">Alhandra: ALD</text>
<text transform="translate(37,499.1) scale(0.82,1)" xml:space="preserve">Amparo: APR</text>
<text transform="translate(37,537.4) scale(0.82,1)" xml:space="preserve">Aparecida: APAC</text>
<text transform="translate(37,575.6) scale(0.82,1)" xml:space="preserve">Araçagi: ARG</text>
<text transform="translate(37,613.9) scale(0.82,1)" xml:space="preserve">Arara: ARR</text>
<text transform="translate(37,652.2) scale(0.82,1)" xml:space="preserve">Araruna: ARU</text>
<text transform="translate(37,690.4) scale(0.82,1)" xml:space="preserve">Areia: ARE</text>
<text transform="translate(37,728.7) scale(0.82,1)" xml:space="preserve">Areia De Baraúnas: ABN</text>
<text transform="translate(37,767.0) scale(0.82,1)" xml:space="preserve">Areial: AREL</text>
<text transform="translate(37,805.2) scale(0.82,1)" xml:space="preserve">Aroeiras: ARS</text>
<text transform="translate(37,843.5) scale(0.82,1)" xml:space="preserve">Assunção : ASS</text>
<text transform="translate(37,881.8) scale(0.82,1)" xml:space="preserve">Baía Da Traição: BTÇ</text>
<text transform="translate(37,920.0) scale(0.82,1)" xml:space="preserve">Bananeiras: BNN</text>
<text transform="translate(37,958.3) scale(0.82,1)" xml:space="preserve">Baraúna: BRU</text>
<text transform="translate(37,996.6) scale(0.82,1)" xml:space="preserve">Barra De Santa Rosa: BSR</text>
<text transform="translate(37,1034.8) scale(0.82,1)" xml:space="preserve">Barra De Santana: BDS</text>
<text transform="translate(37,1073.1) scale(0.82,1)" xml:space="preserve">Barra De São Miguel: BSM</text>
<text transform="translate(37,1111.4) scale(0.82,1)" xml:space="preserve">Bayeux: BYX</text>
<text transform="translate(37,1149.6) scale(0.82,1)" xml:space="preserve">Belém: BLM</text>
<text transform="translate(37,1187.9) scale(0.82,1)" xml:space="preserve">Belém Do Brejo Do Cruz: BBC</text>
<text transform="translate(37,1226.2) scale(0.82,1)" xml:space="preserve">Bernardino Batista: BBT</text>
<text transform="translate(37,1264.4) scale(0.82,1)" xml:space="preserve">Boa Ventura: BVA</text>
<text transform="translate(37,1302.7) scale(0.82,1)" xml:space="preserve">Boa Vista: BVA</text>
<text transform="translate(37,1341.0) scale(0.82,1)" xml:space="preserve">Bom Jesus: BMJ</text>
<text transform="translate(37,1379.2) scale(0.82,1)" xml:space="preserve">Bom Sucesso: BSC</text>
<text transform="translate(37,1417.5) scale(0.82,1)" xml:space="preserve">Bonito De Santa Fé: BSF</text>
<text transform="translate(37,1455.7) scale(0.82,1)" xml:space="preserve">Boqueirão: BQO</text>
<text transform="translate(37,1494.0) scale(0.82,1)" xml:space="preserve">Borborema: BBM</text>
<text transform="translate(37,1532.3) scale(0.82,1)" xml:space="preserve">Brejo Do Cruz: BDC</text>
<text transform="translate(37,1570.5) scale(0.82,1)" xml:space="preserve">Brejo Dos Santos: BDS</text>
<text transform="translate(37,1608.8) scale(0.82,1)" xml:space="preserve">Caaporã: CAP</text>
<text transform="translate(37,1647.1) scale(0.82,1)" xml:space="preserve">Cabaceiras: CBC</text>
<text transform="translate(37,1685.3) scale(0.82,1)" xml:space="preserve">Cabedelo: CBD</text>
<text transform="translate(37,1723.6) scale(0.82,1)" xml:space="preserve">Cachoeira Dos Índios: CDI</text>
<text transform="translate(37,1761.9) scale(0.82,1)" xml:space="preserve">Cacimba De Areia: CDA</text>
<text transform="translate(37,1800.1) scale(0.82,1)" xml:space="preserve">Cacimba De Dentro : CDD</text>
<text transform="translate(37,1838.4) scale(0.82,1)" xml:space="preserve">Cacimbas : CCB</text>
<text transform="translate(37,1876.7) scale(0.82,1)" xml:space="preserve">Caiçara: CCR</text>
<text transform="translate(37,1914.9) scale(0.82,1)" xml:space="preserve">Cajazeiras: CJZ</text>
<text transform="translate(37,1953.2) scale(0.82,1)" xml:space="preserve">Cajazeirinhas: CZR</text>
<text transform="translate(37,1991.5) scale(0.82,1)" xml:space="preserve">Caldas Brandão: CBA</text>
<text transform="translate(37,2029.7) scale(0.82,1)" xml:space="preserve">Camalaú: CML</text>
<text transform="translate(37,2068.0) scale(0.82,1)" xml:space="preserve">Campina Grande: CGA</text>
<text transform="translate(37,2106.2) scale(0.82,1)" xml:space="preserve">Capim: CPM</text>
<text transform="translate(37,2144.5) scale(0.82,1)" xml:space="preserve">Caraúbas:  CUB</text>
<text transform="translate(37,2182.8) scale(0.82,1)" xml:space="preserve">Carrapateira: CRR</text>
<text transform="translate(37,2221.0) scale(0.82,1)" xml:space="preserve">Casserengue: CSG</text>
<text transform="translate(37,2259.3) scale(0.82,1)" xml:space="preserve">Catingueira: CAT</text>
<text transform="translate(37,2297.6) scale(0.82,1)" xml:space="preserve">Catolé Do Rocha: CDR</text>
<text transform="translate(37,2335.8) scale(0.82,1)" xml:space="preserve">Caturit: CUT</text>
<text transform="translate(37,2374.1) scale(0.82,1)" xml:space="preserve">Conceição: CCÇ</text>
<text transform="translate(37,2412.4) scale(0.82,1)" xml:space="preserve">Condado: CDD</text>
<text transform="translate(37,2450.6) scale(0.82,1)" xml:space="preserve">Conde: CDN</text>
<text transform="translate(37,2488.9) scale(0.82,1)" xml:space="preserve">Congo: CNG</text>
<text transform="translate(37,2527.2) scale(0.82,1)" xml:space="preserve">Coremas: CRM</text>
<text transform="translate(37,2565.4) scale(0.82,1)" xml:space="preserve">Coxixola: CXX</text>
<text transform="translate(37,2603.7) scale(0.82,1)" xml:space="preserve">Cruz Do Espírito Santo: CES</text>
<text transform="translate(37,2642.0) scale(0.82,1)" xml:space="preserve">Cubati: CBT</text>
<text transform="translate(37,2680.2) scale(0.82,1)" xml:space="preserve">Cuité: CTE</text>
<text transform="translate(37,2718.5) scale(0.82,1)" xml:space="preserve">Cuité De Mamanguape: CDM</text>
<text transform="translate(37,2756.8) scale(0.82,1)" xml:space="preserve">Cuitegi: CIG</text>
<text transform="translate(37,2795.0) scale(0.82,1)" xml:space="preserve">Curral De Cima: CDC</text>
<text transform="translate(37,2833.3) scale(0.82,1)" xml:space="preserve">Curral Velho: CLV</text>
<text transform="translate(37,2871.6) scale(0.82,1)" xml:space="preserve">Damião: DMÃ</text>
<text transform="translate(37,2909.8) scale(0.82,1)" xml:space="preserve">Desterro: DET</text>
<text transform="translate(37,2948.1) scale(0.82,1)" xml:space="preserve">Diamante: DIT</text>
<text transform="translate(37,2986.3) scale(0.82,1)" xml:space="preserve">Dona Inês: DIN</text>
<text transform="translate(37,3024.6) scale(0.82,1)" xml:space="preserve">Duas Estradas: DUE</text>
<text transform="translate(37,3062.9) scale(0.82,1)" xml:space="preserve">Emas: EMA</text>
<text transform="translate(37,3101.1) scale(0.82,1)" xml:space="preserve">Esperança: ESP</text>
<text transform="translate(37,3139.4) scale(0.82,1)" xml:space="preserve">Fagundes : FUD</text>
<text transform="translate(37,3177.7) scale(0.82,1)" xml:space="preserve">Frei Martinho: FMO</text>
<text transform="translate(37,3215.9) scale(0.82,1)" xml:space="preserve">Gado Bravo: GBV</text>
<text transform="translate(37,3254.2) scale(0.82,1)" xml:space="preserve">Guarabira : GRB</text>
<text transform="translate(419.5,185.4) scale(0.82,1)" xml:space="preserve">Gurinhém: GRM</text>
<text transform="translate(419.5,223.7) scale(0.82,1)" xml:space="preserve">Gurjão: GJÃ</text>
<text transform="translate(419.5,262.0) scale(0.82,1)" xml:space="preserve">Ibiara: IBI</text>
<text transform="translate(419.5,300.2) scale(0.82,1)" xml:space="preserve">Igaracy: IGY</text>
<text transform="translate(419.5,338.5) scale(0.82,1)" xml:space="preserve">Imaculada: IMC</text>
<text transform="translate(419.5,376.8) scale(0.82,1)" xml:space="preserve">Ingá: ING</text>
<text transform="translate(419.5,415.1) scale(0.82,1)" xml:space="preserve">Itabaiana: ITB</text>
<text transform="translate(419.5,453.4) scale(0.82,1)" xml:space="preserve">Itaporanga: ITG</text>
<text transform="translate(419.5,491.6) scale(0.82,1)" xml:space="preserve">Itapororoca: ITR</text>
<text transform="translate(419.5,529.9) scale(0.82,1)" xml:space="preserve">Itatuba: TIB</text>
<text transform="translate(419.5,568.2) scale(0.82,1)" xml:space="preserve">Jacaraú: JCR</text>
<text transform="translate(419.5,606.5) scale(0.82,1)" xml:space="preserve">Jericó: JRC</text>
<text transform="translate(419.5,644.8) scale(0.82,1)" xml:space="preserve">João Pessoa: JPA</text>
<text transform="translate(419.5,683.0) scale(0.82,1)" xml:space="preserve">Joca Claudino: JCD</text>
<text transform="translate(419.5,721.3) scale(0.82,1)" xml:space="preserve">Juarez Távora: JTR</text>
<text transform="translate(419.5,759.6) scale(0.82,1)" xml:space="preserve">Juazeirinho: JZN</text>
<text transform="translate(419.5,797.9) scale(0.82,1)" xml:space="preserve">Junco Do Seridó: JDS</text>
<text transform="translate(419.5,836.2) scale(0.82,1)" xml:space="preserve">Juripiranga: JPG</text>
<text transform="translate(419.5,874.4) scale(0.82,1)" xml:space="preserve">Juru: JUR</text>
<text transform="translate(419.5,912.7) scale(0.82,1)" xml:space="preserve">Lagoa: LGO</text>
<text transform="translate(419.5,951.0) scale(0.82,1)" xml:space="preserve">Lagoa De Dentro: LDD</text>
<text transform="translate(419.5,989.3) scale(0.82,1)" xml:space="preserve">Lagoa Seca: GS</text>
<text transform="translate(419.5,1027.6) scale(0.82,1)" xml:space="preserve">Lastro: LAT</text>
<text transform="translate(419.5,1065.8) scale(0.82,1)" xml:space="preserve">Livramento: LIVR</text>
<text transform="translate(419.5,1104.1) scale(0.82,1)" xml:space="preserve">Logradouro: LGR</text>
<text transform="translate(419.5,1142.4) scale(0.82,1)" xml:space="preserve">Lucena: LUC</text>
<text transform="translate(419.5,1180.7) scale(0.82,1)" xml:space="preserve">Mãe D'água: MDA</text>
<text transform="translate(419.5,1219.0) scale(0.82,1)" xml:space="preserve">Malta: MAT</text>
<text transform="translate(419.5,1257.2) scale(0.82,1)" xml:space="preserve">Mamanguape: MGP</text>
<text transform="translate(419.5,1295.5) scale(0.82,1)" xml:space="preserve">Manaíra: MAÍ</text>
<text transform="translate(419.5,1333.8) scale(0.82,1)" xml:space="preserve">Marcação: MAC</text>
<text transform="translate(419.5,1372.1) scale(0.82,1)" xml:space="preserve">Mari: MAR</text>
<text transform="translate(419.5,1410.4) scale(0.82,1)" xml:space="preserve">Marizópolis: MZP</text>
<text transform="translate(419.5,1448.6) scale(0.82,1)" xml:space="preserve">Massaranduba: MSS</text>
<text transform="translate(419.5,1486.9) scale(0.82,1)" xml:space="preserve">Mataraca: MTR</text>
<text transform="translate(419.5,1525.2) scale(0.82,1)" xml:space="preserve">Matinhas: MTH</text>
<text transform="translate(419.5,1563.5) scale(0.82,1)" xml:space="preserve">Mato Grosso: MTG</text>
<text transform="translate(419.5,1601.8) scale(0.82,1)" xml:space="preserve">Maturéia: MTE</text>
<text transform="translate(419.5,1640.0) scale(0.82,1)" xml:space="preserve">Mogeiro: MGR</text>
<text transform="translate(419.5,1678.3) scale(0.82,1)" xml:space="preserve">Montadas : MTD</text>
<text transform="translate(419.5,1716.6) scale(0.82,1)" xml:space="preserve">Monte Horebe: MTE</text>
<text transform="translate(419.5,1754.9) scale(0.82,1)" xml:space="preserve">Monteiro: MON</text>
<text transform="translate(419.5,1793.2) scale(0.82,1)" xml:space="preserve">Mulungu: MUG</text>
<text transform="translate(419.5,1831.4) scale(0.82,1)" xml:space="preserve">Natuba: NAT</text>
<text transform="translate(419.5,1869.7) scale(0.82,1)" xml:space="preserve">Nazarezinho: NZZ</text>
<text transform="translate(419.5,1908.0) scale(0.82,1)" xml:space="preserve">Nova Floresta: NFT</text>
<text transform="translate(419.5,1946.3) scale(0.82,1)" xml:space="preserve">Nova Olinda: NOL</text>
<text transform="translate(419.5,1984.6) scale(0.82,1)" xml:space="preserve">Nova Palmeira: NPL</text>
<text transform="translate(419.5,2022.8) scale(0.82,1)" xml:space="preserve">Olho D'água: ODA</text>
<text transform="translate(419.5,2061.1) scale(0.82,1)" xml:space="preserve">Olivedos: OLD</text>
<text transform="translate(419.5,2099.4) scale(0.82,1)" xml:space="preserve">Ouro Velho: OUV</text>
<text transform="translate(419.5,2137.7) scale(0.82,1)" xml:space="preserve">Parari: PAT</text>
<text transform="translate(419.5,2176.0) scale(0.82,1)" xml:space="preserve">Passagem: PSS</text>
<text transform="translate(419.5,2214.2) scale(0.82,1)" xml:space="preserve">Patos: PAT</text>
<text transform="translate(419.5,2252.5) scale(0.82,1)" xml:space="preserve">Paulista: PUL</text>
<text transform="translate(419.5,2290.8) scale(0.82,1)" xml:space="preserve">Pedra Branca: PBA</text>
<text transform="translate(419.5,2329.1) scale(0.82,1)" xml:space="preserve">Pedra Lavrada: PLA</text>
<text transform="translate(419.5,2367.4) scale(0.82,1)" xml:space="preserve">Pedras De Fogo: PDF</text>
<text transform="translate(419.5,2405.6) scale(0.82,1)" xml:space="preserve">Pedro Régis: POR</text>
<text transform="translate(419.5,2443.9) scale(0.82,1)" xml:space="preserve">Piancó: PNC</text>
<text transform="translate(419.5,2482.2) scale(0.82,1)" xml:space="preserve">Picuí: PCI</text>
<text transform="translate(419.5,2520.5) scale(0.82,1)" xml:space="preserve">Pilar: PIL</text>
<text transform="translate(419.5,2558.8) scale(0.82,1)" xml:space="preserve">Pilões: POS</text>
<text transform="translate(419.5,2597.0) scale(0.82,1)" xml:space="preserve">Pilõezinhos: PLZ</text>
<text transform="translate(419.5,2635.3) scale(0.82,1)" xml:space="preserve">Pirpirituba: PPT</text>
<text transform="translate(419.5,2673.6) scale(0.82,1)" xml:space="preserve">Pitimbu: PIT</text>
<text transform="translate(419.5,2711.9) scale(0.82,1)" xml:space="preserve">Pocinhos: PCH</text>
<text transform="translate(419.5,2750.2) scale(0.82,1)" xml:space="preserve">Poço Dantas: PDT</text>
<text transform="translate(419.5,2788.4) scale(0.82,1)" xml:space="preserve">Poço De José De Moura: PJM</text>
<text transform="translate(419.5,2826.7) scale(0.82,1)" xml:space="preserve">Pombal: PBL</text>
<text transform="translate(419.5,2865.0) scale(0.82,1)" xml:space="preserve">Prata: PRT</text>
<text transform="translate(419.5,2903.3) scale(0.82,1)" xml:space="preserve">Princesa Isabel: PRI</text>
<text transform="translate(419.5,2941.6) scale(0.82,1)" xml:space="preserve">Puxinanã: PNN</text>
<text transform="translate(419.5,2979.8) scale(0.82,1)" xml:space="preserve">Queimadas: QMD</text>
<text transform="translate(419.5,3018.1) scale(0.82,1)" xml:space="preserve">Quixaba: QXB</text>
<text transform="translate(419.5,3056.4) scale(0.82,1)" xml:space="preserve">Remígio: RMG</text>
<text transform="translate(419.5,3094.7) scale(0.82,1)" xml:space="preserve">Riachão: RAÇ</text>
<text transform="translate(419.5,3133.0) scale(0.82,1)" xml:space="preserve">Riachão Do Bacamarte: RDB</text>
<text transform="translate(419.5,3171.2) scale(0.82,1)" xml:space="preserve">Riachão Do Poço: RDP</text>
<text transform="translate(419.5,3209.5) scale(0.82,1)" xml:space="preserve">Riacho De Santo Antônio: RSA</text>
<text transform="translate(419.5,3247.8) scale(0.82,1)" xml:space="preserve">Riacho Dos Cavalos: RDC</text>
<text transform="translate(802,949.0) scale(0.82,1)" xml:space="preserve">Rio Tinto:  RTO</text>
<text transform="translate(802,987.3) scale(0.82,1)" xml:space="preserve">Salgadinho: SGD</text>
<text transform="translate(802,1025.5) scale(0.82,1)" xml:space="preserve">Salgado De São Félix: SDF</text>
<text transform="translate(802,1063.8) scale(0.82,1)" xml:space="preserve">Santa Cecília: ACE</text>
<text transform="translate(802,1102.1) scale(0.82,1)" xml:space="preserve">Santa Cruz: STC</text>
<text transform="translate(802,1140.3) scale(0.82,1)" xml:space="preserve">Santa Helena: STH</text>
<text transform="translate(802,1178.6) scale(0.82,1)" xml:space="preserve">Santa Inês: STI</text>
<text transform="translate(802,1216.9) scale(0.82,1)" xml:space="preserve">Santa Luzia: ATL</text>
<text transform="translate(802,1255.2) scale(0.82,1)" xml:space="preserve">Santa Rita:STR</text>
<text transform="translate(802,1293.4) scale(0.82,1)" xml:space="preserve">Santa Teresinha: STT</text>
<text transform="translate(802,1331.7) scale(0.82,1)" xml:space="preserve">Santana De Mangueira: STM</text>
<text transform="translate(802,1370.0) scale(0.82,1)" xml:space="preserve">Santana Dos Garrotes: STG</text>
<text transform="translate(802,1408.2) scale(0.82,1)" xml:space="preserve">Santo André: ATA</text>
<text transform="translate(802,1446.5) scale(0.82,1)" xml:space="preserve">São Bentinho: SAB</text>
<text transform="translate(802,1484.8) scale(0.82,1)" xml:space="preserve">São Bento: SBT</text>
<text transform="translate(802,1523.1) scale(0.82,1)" xml:space="preserve">São Domingos: SDG</text>
<text transform="translate(802,1561.3) scale(0.82,1)" xml:space="preserve">São Domingos Do Cariri: SDC</text>
<text transform="translate(802,1599.6) scale(0.82,1)" xml:space="preserve">São Francisco: SFC</text>
<text transform="translate(802,1637.9) scale(0.82,1)" xml:space="preserve">São João Do Cariri: SJC</text>
<text transform="translate(802,1676.1) scale(0.82,1)" xml:space="preserve">São João Do Rio Do Peixe: SJR</text>
<text transform="translate(802,1714.4) scale(0.82,1)" xml:space="preserve">São João Do Tigre: SJT</text>
<text transform="translate(802,1752.7) scale(0.82,1)" xml:space="preserve">São José Da Lagoa Tapada: SJL</text>
<text transform="translate(802,1790.9) scale(0.82,1)" xml:space="preserve">São José De Caiana: SJC</text>
<text transform="translate(802,1829.2) scale(0.82,1)" xml:space="preserve">São José De Espinharas: SJE</text>
<text transform="translate(802,1867.5) scale(0.82,1)" xml:space="preserve">São José De Piranhas: SJP</text>
<text transform="translate(802,1905.8) scale(0.82,1)" xml:space="preserve">São José De Princesa: SJP</text>
<text transform="translate(802,1944.0) scale(0.82,1)" xml:space="preserve">São José Do Bonfim: SJB</text>
<text transform="translate(802,1982.3) scale(0.82,1)" xml:space="preserve">São José Do Brejo Do Cruz: SJB</text>
<text transform="translate(802,2020.6) scale(0.82,1)" xml:space="preserve">São José Do Sabugi: SJS</text>
<text transform="translate(802,2058.8) scale(0.82,1)" xml:space="preserve">São José Dos Cordeiros: SJC</text>
<text transform="translate(802,2097.1) scale(0.82,1)" xml:space="preserve">São José Dos Ramos: SJR</text>
<text transform="translate(802,2135.4) scale(0.82,1)" xml:space="preserve">São Mamede: SMM</text>
<text transform="translate(802,2173.6) scale(0.82,1)" xml:space="preserve">São Miguel De Taipu: SMT</text>
<text transform="translate(802,2211.9) scale(0.82,1)" xml:space="preserve">São Sebastião De Lagoa De Roça: SSR</text>
<text transform="translate(802,2250.2) scale(0.82,1)" xml:space="preserve">São Sebastião Do Umbuzeiro: SSU</text>
<text transform="translate(802,2288.4) scale(0.82,1)" xml:space="preserve">São Vicente Do Seridó: SVS</text>
<text transform="translate(802,2326.7) scale(0.82,1)" xml:space="preserve">Sapé: SAP</text>
<text transform="translate(802,2365.0) scale(0.82,1)" xml:space="preserve">Serra Branca: SEB</text>
<text transform="translate(802,2403.3) scale(0.82,1)" xml:space="preserve">Serra Da Raiz: SDR</text>
<text transform="translate(802,2441.5) scale(0.82,1)" xml:space="preserve">Serra Grande: SRG</text>
<text transform="translate(802,2479.8) scale(0.82,1)" xml:space="preserve">Serra Redonda: SER</text>
<text transform="translate(802,2518.1) scale(0.82,1)" xml:space="preserve">Serraria: SRR</text>
<text transform="translate(802,2556.3) scale(0.82,1)" xml:space="preserve">Sertãozinho: STZ</text>
<text transform="translate(802,2594.6) scale(0.82,1)" xml:space="preserve">Sobrado: SBD</text>
<text transform="translate(802,2632.9) scale(0.82,1)" xml:space="preserve">Solânea: SLN</text>
<text transform="translate(802,2671.2) scale(0.82,1)" xml:space="preserve">Soledade : SOL</text>
<text transform="translate(802,2709.4) scale(0.82,1)" xml:space="preserve">Sossêgo: SOS</text>
<text transform="translate(802,2747.7) scale(0.82,1)" xml:space="preserve">Sousa: SOU</text>
<text transform="translate(802,2786.0) scale(0.82,1)" xml:space="preserve">Sumé: SMÉ</text>
<text transform="translate(802,2824.2) scale(0.82,1)" xml:space="preserve">Tacima: TCM</text>
<text transform="translate(802,2862.5) scale(0.82,1)" xml:space="preserve">Taperoá: TPA</text>
<text transform="translate(802,2900.8) scale(0.82,1)" xml:space="preserve">Tavares: TVR</text>
<text transform="translate(802,2939.0) scale(0.82,1)" xml:space="preserve">Teixeira: TXE</text>
<text transform="translate(802,2977.3) scale(0.82,1)" xml:space="preserve">Tenório: TNR</text>
<text transform="translate(802,3015.6) scale(0.82,1)" xml:space="preserve">Triunfo: TRI</text>
<text transform="translate(802,3053.9) scale(0.82,1)" xml:space="preserve">Uiraúna:  URU</text>
<text transform="translate(802,3092.1) scale(0.82,1)" xml:space="preserve">Umbuzeiro: UMB</text>
<text transform="translate(802,3130.4) scale(0.82,1)" xml:space="preserve">Várzea: VZA</text>
<text transform="translate(802,3168.7) scale(0.82,1)" xml:space="preserve">Vieirópolis: VPL</text>
<text transform="translate(802,3206.9) scale(0.82,1)" xml:space="preserve">Vista Serrana: VSR</text>
<text transform="translate(802,3245.2) scale(0.82,1)" xml:space="preserve">Zabelê: ZBL</text>
</g>
<text x="1152" y="2704" textLength="762" lengthAdjust="spacingAndGlyphs" style="font-size:66px;font-weight:bold">Notificações: 124 óbitos</text>
<g class="n">
<text x="1152" y="2776.4">JOÃO PESSOA: 55</text>
<text x="1152" y="2827.3">PATOS: 7</text>
<text x="1152" y="2878.3">CABEDELO: 5</text>
<text x="1152" y="2929.2">ALHANDRA: 3</text>
<text x="1152" y="2980.2">MARIZÓPOLIS: 1</text>
<text x="1152" y="3031.2">SAPÉ: 1</text>
<text x="1152" y="3082.1">RIACHÃO DO POÇO: 1</text>
<text x="1152" y="3133.1">CONDE: 1</text>
<text x="1152" y="3184.0">MARI: 1</text>
<text x="1152" y="3235.0">UMBUZEIRO: 1</text>
<text x="1152" y="3285.9">LAGOA SECA: 1</text>
<text x="1656.5" y="2776.4">SANTA RITA: 26</text>
<text x="1656.5" y="2827.3">BAYEUX: 6</text>
<text x="1656.5" y="2878.3">CAMPINA GRANDE: 3</text>
<text x="1656.5" y="2929.2">SÃO BENTO: 2</text>
<text x="1656.5" y="2980.2">BREJO DO CRUZ: 1</text>
<text x="1656.5" y="3031.2">JUNCO DO SERIDÓ: 1</text>
<text x="1656.5" y="3082.1">TAPEROÁ: 1</text>
<text x="1656.5" y="3133.1">CAJAZEIRAS: 1</text>
<text x="1656.5" y="3184.0">BOQUEIRÃO: 1</text>
<text x="1656.5" y="3235.0">CRUZ DO ESPÍRITO SANTO: 1</text>
<text x="1656.5" y="3285.9">PEDRAS DE FOGO: 1</text>
<text x="2150" y="2745.0">CONGO: 1</text>
<text x="2150" y="2796.2">ITAPOROROCA: 1</text>
<text x="2150" y="2847.4">S.J, DE PIRANHAS: 1</text>
</g>
<rect x="2660" y="2713.5" width="952.5" height="32.5" rx="3"/><rect x="2903" y="2719.5" width="230.5" height="21.5" fill="#fff"/>
<g class="s">
<text x="2663" y="2687">0</text>
<text x="2899" y="2687">30</text>
<text x="3134.5" y="2687">60</text>
<text x="3610" y="2687">120</text>
<text x="3626" y="2741" style="text-anchor:start">Km</text>
<text x="3195.5" y="2836.0">Fonte de Dados: Casos Confirmados</text>
<text x="3195.5" y="2893.6">e Óbitos por COVID-19 obtidos do Boletim</text>
<text x="3195.5" y="2951.2">da Secretaria de Estado da Saúde (SES) da Paraíba,</text>
<text x="3195.5" y="3008.9">Atualizado no dia 09/05/2020;</text>
<text x="3195.5" y="3066.5">Base Municipal do IBGE (2017).</text>
<text x="3195.5" y="3124.1">Projeção: Policônica</text>
<text x="3195.5" y="3181.7">Datum: SIRGAS 2000</text>
<text x="3195.5" y="3239.3">Elaboração: Thiago da Silva Farias</text>
<text x="3232" y="2567">Universidade Federal</text><text x="3232" y="2622">da Paraíba</text>
</g>
<g class="g">
<text x="3938" y="2186" style="font-weight:bold">LEGENDA</text>
<rect class="bx" x="3716" y="2236" width="86" height="86"/><rect x="3751.3" y="2247.18" width="15.403" height="63.64"/><rect x="3737.18" y="2262.58" width="43.6418" height="12.194"/>
<text x="3848.5" y="2251">Óbitos</text><text x="3848.5" y="2314.5">Confirmados</text>
<line x1="4094.5" y1="2247" x2="4253.5" y2="2247" stroke="#828282" stroke-width="5.5" stroke-linecap="round"/>
<text x="4280" y="2264.5">Rodovias</text>
<text x="3767" y="2387" style="font-weight:bold;font-size:56px">Casos Confirmados</text>
<rect x="3722" y="2426" width="115" height="76" fill="#FFD37F"/><text x="3886" y="2482">0</text>
<rect x="3722" y="2532" width="115" height="76" fill="#FFAA00"/><text x="3886" y="2588">1</text>
<rect x="3722" y="2637" width="115" height="76" fill="#FF5500"/><text x="3886" y="2693">2 - 5</text>
<rect x="4046" y="2426" width="115" height="76" fill="#E60000"/><text x="4210" y="2482">6 - 20</text>
<rect x="4046" y="2532" width="115" height="76" fill="#A80000"/><text x="4210" y="2588">21 - 50</text>
<rect x="4046" y="2637" width="115" height="76" fill="#730000"/><text x="4210" y="2693">51 - 1.114</text>
</g>
<g transform="translate(3140,2300) scale(0.14168)">
<path d="M400,300 q-30,-70 30,-110 q40,-30 50,-70 q40,50 10,90 q50,-10 40,-70 q40,80 -10,160z" fill="#d9261c"/>
<path d="M430,290 q0,-50 50,-70 q-10,40 20,70z" fill="#fff" opacity=".8"/>
<rect x="385" y="300" width="170" height="40" rx="18" fill="#f08a1e"/><rect x="395" y="338" width="150" height="60" rx="14" fill="#f39a2a"/><rect x="415" y="395" width="110" height="80" fill="#ee8a1c"/>
<path d="M440,1090 h60 l10,150 q-10,60 -40,70 q-30,-10 -40,-70z" fill="#ee8a1c"/>
<path d="M610,300 q-30,-70 30,-110 q40,-30 50,-70 q40,50 10,90 q50,-10 40,-70 q40,80 -10,160z" fill="#d9261c"/>
<path d="M640,290 q0,-50 50,-70 q-10,40 20,70z" fill="#fff" opacity=".8"/>
<rect x="595" y="300" width="170" height="40" rx="18" fill="#f08a1e"/><rect x="605" y="338" width="150" height="60" rx="14" fill="#f39a2a"/><rect x="625" y="395" width="110" height="80" fill="#ee8a1c"/>
<path d="M650,1090 h60 l10,150 q-10,60 -40,70 q-30,-10 -40,-70z" fill="#ee8a1c"/>
<path d="M815,300 q-30,-70 30,-110 q40,-30 50,-70 q40,50 10,90 q50,-10 40,-70 q40,80 -10,160z" fill="#d9261c"/>
<path d="M845,290 q0,-50 50,-70 q-10,40 20,70z" fill="#fff" opacity=".8"/>
<rect x="800" y="300" width="170" height="40" rx="18" fill="#f08a1e"/><rect x="810" y="338" width="150" height="60" rx="14" fill="#f39a2a"/><rect x="830" y="395" width="110" height="80" fill="#ee8a1c"/>
<path d="M855,1090 h60 l10,150 q-10,60 -40,70 q-30,-10 -40,-70z" fill="#ee8a1c"/>
<path d="M385,470 H945 V1000 q0,60 -90,80 q-130,20 -190,50 q-60,-30 -190,-50 q-90,-20 -90,-80z" fill="#3f5488"/>
<path d="M420,478 q120,80 190,230 q90,200 330,300 v60 q-260,-100 -360,-330 q-70,-150 -190,-220z M560,478 q90,60 150,190 q80,170 230,240 v50 q-170,-70 -250,-250 q-60,-140 -160,-230z M395,560 q90,60 140,180 q30,60 60,100 l-40,10 q-40,-60 -70,-120 q-40,-80 -90,-120z" fill="#fff"/>
<g fill="#fff" clip-path="url(#shc)"><circle cx="440" cy="510" r="9"/><circle cx="535" cy="510" r="9"/><circle cx="630" cy="510" r="9"/><circle cx="725" cy="510" r="9"/><circle cx="820" cy="510" r="9"/><circle cx="915" cy="510" r="9"/><circle cx="487" cy="558" r="9"/><circle cx="582" cy="558" r="9"/><circle cx="677" cy="558" r="9"/><circle cx="772" cy="558" r="9"/><circle cx="867" cy="558" r="9"/><circle cx="962" cy="558" r="9"/><circle cx="440" cy="606" r="9"/><circle cx="535" cy="606" r="9"/><circle cx="630" cy="606" r="9"/><circle cx="725" cy="606" r="9"/><circle cx="820" cy="606" r="9"/><circle cx="915" cy="606" r="9"/><circle cx="487" cy="654" r="9"/><circle cx="582" cy="654" r="9"/><circle cx="677" cy="654" r="9"/><circle cx="772" cy="654" r="9"/><circle cx="867" cy="654" r="9"/><circle cx="962" cy="654" r="9"/><circle cx="440" cy="702" r="9"/><circle cx="535" cy="702" r="9"/><circle cx="630" cy="702" r="9"/><circle cx="725" cy="702" r="9"/><circle cx="820" cy="702" r="9"/><circle cx="915" cy="702" r="9"/><circle cx="487" cy="750" r="9"/><circle cx="582" cy="750" r="9"/><circle cx="677" cy="750" r="9"/><circle cx="772" cy="750" r="9"/><circle cx="867" cy="750" r="9"/><circle cx="962" cy="750" r="9"/><circle cx="440" cy="798" r="9"/><circle cx="535" cy="798" r="9"/><circle cx="630" cy="798" r="9"/><circle cx="725" cy="798" r="9"/><circle cx="820" cy="798" r="9"/><circle cx="915" cy="798" r="9"/><circle cx="487" cy="846" r="9"/><circle cx="582" cy="846" r="9"/><circle cx="677" cy="846" r="9"/><circle cx="772" cy="846" r="9"/><circle cx="867" cy="846" r="9"/><circle cx="962" cy="846" r="9"/><circle cx="440" cy="894" r="9"/><circle cx="535" cy="894" r="9"/><circle cx="630" cy="894" r="9"/><circle cx="725" cy="894" r="9"/><circle cx="820" cy="894" r="9"/><circle cx="915" cy="894" r="9"/><circle cx="487" cy="942" r="9"/><circle cx="582" cy="942" r="9"/><circle cx="677" cy="942" r="9"/><circle cx="772" cy="942" r="9"/><circle cx="867" cy="942" r="9"/><circle cx="962" cy="942" r="9"/><circle cx="440" cy="990" r="9"/><circle cx="535" cy="990" r="9"/><circle cx="630" cy="990" r="9"/><circle cx="725" cy="990" r="9"/><circle cx="820" cy="990" r="9"/><circle cx="915" cy="990" r="9"/><circle cx="487" cy="1038" r="9"/><circle cx="582" cy="1038" r="9"/><circle cx="677" cy="1038" r="9"/><circle cx="772" cy="1038" r="9"/><circle cx="867" cy="1038" r="9"/><circle cx="962" cy="1038" r="9"/></g>
<defs><clipPath id="shc"><path d="M395,480 H935 V1000 q0,50 -80,70 q-130,20 -190,50 q-60,-30 -190,-50 q-80,-20 -80,-70z"/></clipPath></defs>
<path d="M665,585 q50,90 25,190 q-5,40 10,60 q40,-90 110,-90 q40,30 10,80 q-50,-10 -70,40 q-20,40 -60,50 q0,50 30,60 q-10,30 -55,40 q-45,-10 -55,-40 q30,-10 30,-60 q-40,-10 -60,-50 q-20,-50 -70,-40 q-30,-50 10,-80 q70,0 110,90 q15,-20 10,-60 q-25,-100 25,-190z" fill="#f5c518"/>
<path d="M290,940 q70,-20 130,0 v90 q-60,-20 -130,10 l40,-50z M1050,940 q-70,-20 -130,0 v90 q60,-20 130,10 l-40,-50z" fill="#3f5488"/>
<path d="M260,1060 q10,-40 90,-30 q60,0 80,30 q40,50 235,80 q195,-30 235,-80 q20,-30 80,-30 q80,-10 90,30 q-20,50 -100,40 q-120,60 -305,70 q-185,-10 -305,-70 q-80,10 -100,-40z" fill="#fff" stroke="#3f5488" stroke-width="8"/>
<path d="M270,1100 q80,40 395,60 q315,-20 395,-60 l-60,170 q-100,30 -335,40 q-235,-10 -335,-40z" fill="#3f5488"/>
<text x="668" y="1232" text-anchor="middle" textLength="690" lengthAdjust="spacingAndGlyphs" style="font-family:'Liberation Serif',serif;font-size:92px;font-style:italic;fill:#e6c229">SAPIENTIA ÆDIFICAT</text>
<text x="670" y="1500" text-anchor="middle" textLength="500" lengthAdjust="spacingAndGlyphs" style="font-size:188px;font-weight:bold;fill:#353535">UFPB</text>
</g>
<g><rect x="3909.8" y="2869.3" width="191.1" height="189.7" fill="#339999"/>
<defs><radialGradient id="gl" cx="40%" cy="40%" r="70%"><stop offset="0" stop-color="#1257b8"/><stop offset="1" stop-color="#06306e"/></radialGradient><clipPath id="glc"><circle cx="4007.5" cy="2963" r="66.5"/></clipPath></defs>
<circle cx="4007.5" cy="2963" r="66.5" fill="url(#gl)"/>
<g clip-path="url(#glc)"><path d="M3980,2906 q14,-10 34,-8 q22,4 34,18 q8,10 2,22 q-8,10 -4,20 q8,4 4,14 q-10,0 -14,-8 q-12,-2 -16,-14 q-14,-6 -18,-22 q-10,-8 -22,-22z" fill="#8fae3c" stroke="#38d8e8" stroke-width="2.5"/>
<path d="M4046,2972 q16,-6 26,8 q6,14 -2,30 q-8,18 -22,30 q-8,-4 -6,-18 q-6,-14 -4,-28 q0,-14 8,-22z" fill="#8fae3c" stroke="#38d8e8" stroke-width="2.5"/></g>
<defs><path id="dgc" d="M4007.5,3034.5 a71.5,71.5 0 1,1 0,-143 a71.5,71.5 0 1,1 0,143"/></defs>
<text style="font-size:19px;font-weight:bold;fill:#12202a"><textPath href="#dgc" startOffset="6.5%" textLength="408" lengthAdjust="spacingAndGlyphs">GEOCIÊNCIAS - DGEOC • DEPARTAMENTO DE</textPath></text>
</g>
<g><rect x="4156" y="2936" width="367" height="109" fill="#fff"/>
<ellipse cx="4337" cy="3021" rx="175" ry="20" fill="#5a2d14"/><ellipse cx="4337" cy="3015" rx="175" ry="20" fill="#b88a46"/>
<path d="M4440,2998 q40,-4 70,10 q4,10 -6,16 q-40,12 -92,6 q8,-22 28,-32z" fill="#4f9a2e"/>
<path d="M4468,3005 v-50 q36,6 50,40 q-4,10 -50,10z" fill="#62abd9"/>
<path d="M4170,3012 l40,-8 l60,10 l50,-6 l70,8 l40,-6" fill="none" stroke="#6b4a22" stroke-width="1.5"/>
<text x="4203" y="3006" textLength="278" lengthAdjust="spacingAndGlyphs" style="font-size:95px;font-weight:bold;fill:#5aa4d6;stroke:#c9eaf8;stroke-width:5;paint-order:stroke fill">LEGAT</text>
</g>
<g style="font-size:44.5px;text-anchor:middle"><text x="4201" y="3117" style="font-size:44.5px;text-anchor:middle">Laboratório de Estudos em Gestão</text><text x="4194" y="3168" style="font-size:44.5px;text-anchor:middle">de Água e Território -</text><text x="4202" y="3220" style="font-size:44.5px;text-anchor:middle">LEGAT/DGEOC (www.ufpb.br/legat)</text></g>
<rect x="0" y="0" width="4679" height="3" fill="#000"/><rect x="0" y="0" width="4" height="3308" fill="#000"/><rect x="4676.4" y="0" width="2.6" height="3308" fill="#000"/><rect x="0" y="3304.3" width="4679" height="3.7" fill="#000"/>
</svg></body></html>
